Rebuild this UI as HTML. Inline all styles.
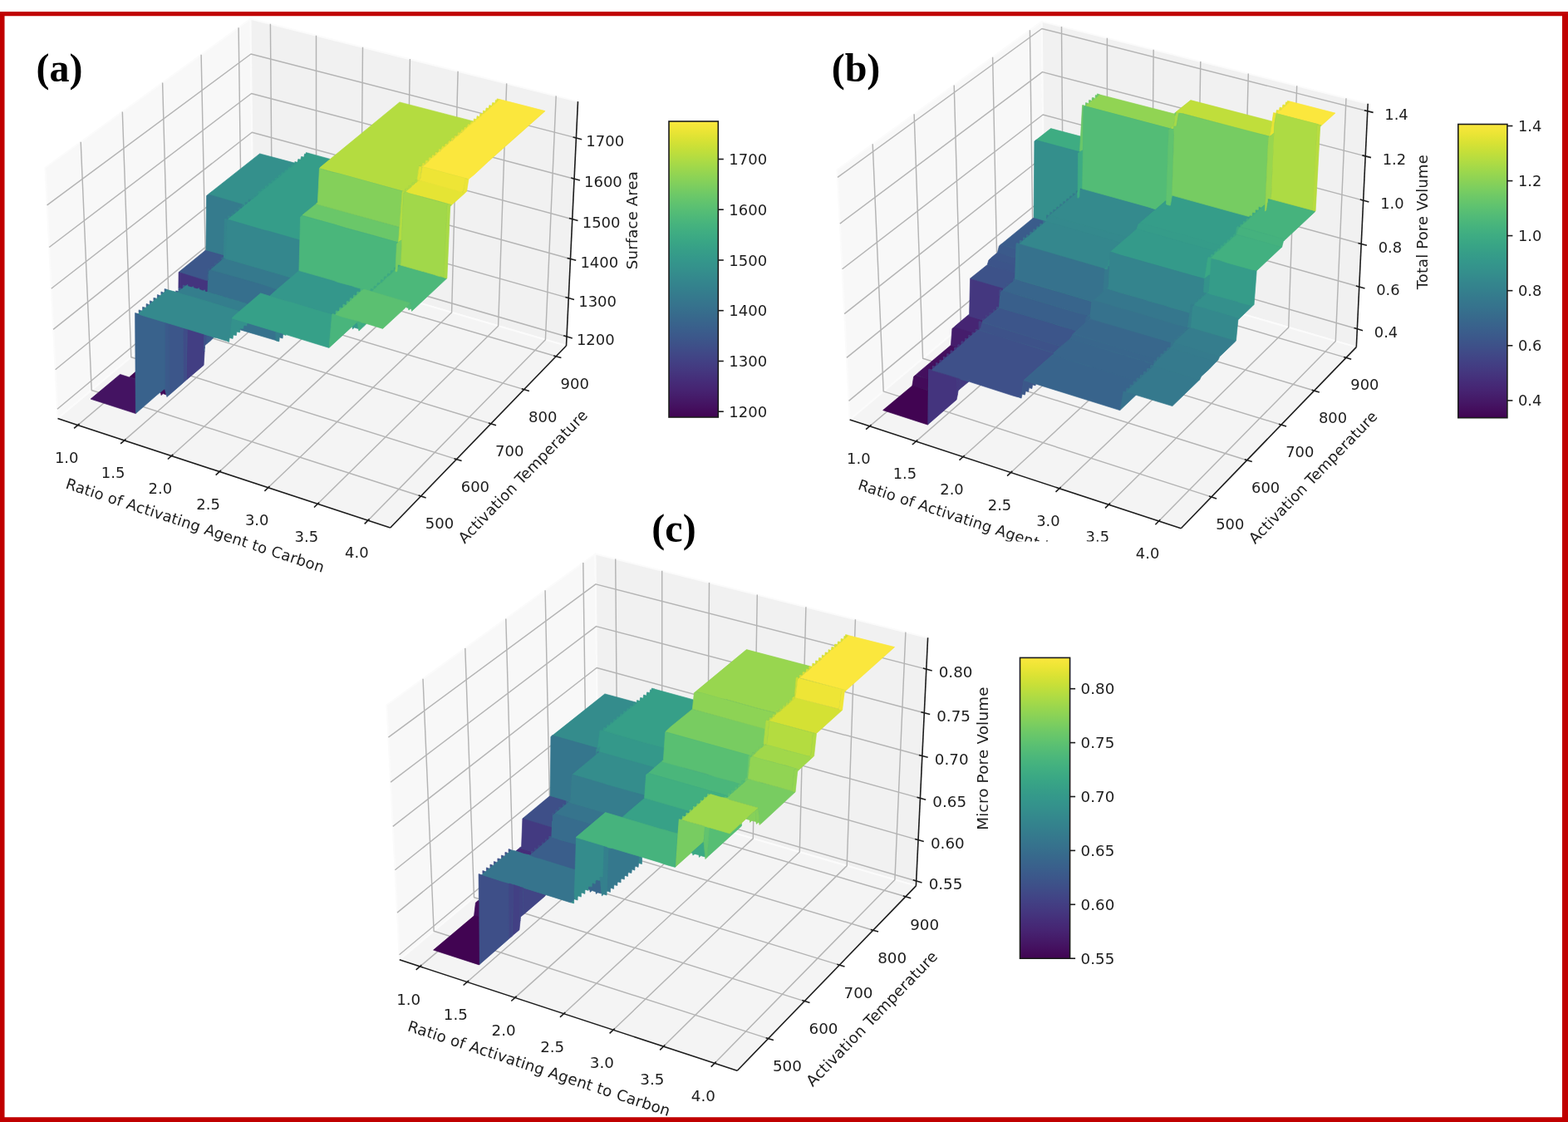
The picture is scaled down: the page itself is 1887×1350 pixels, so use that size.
<!DOCTYPE html>
<html><head><meta charset="utf-8"><title>Figure</title><style>html,body{margin:0;padding:0;background:#fff}svg{display:block}</style></head><body>
<svg width="1887" height="1350" viewBox="0 0 1887 1350" shape-rendering="auto">
<rect width="1887" height="1350" fill="#fff"/>
<g id="figure" stroke-linecap="butt">
<g id="panel-a">
<polygon stroke="#fbfbfb" stroke-width="2" stroke-linejoin="round" fill="#f8f8f8" points="69.5,503.6 304.9,306.5 301.5,22.8 54.4,201.8"/>
<polygon stroke="#fbfbfb" stroke-width="2" stroke-linejoin="round" fill="#f1f1f1" points="304.9,306.5 681.5,416 695.5,122.1 301.5,22.8"/>
<polygon stroke="#fbfbfb" stroke-width="2" stroke-linejoin="round" fill="#f4f4f4" points="69.5,503.6 469.7,635 681.5,416 304.9,306.5"/>
<g fill="none" stroke="#b4b4b4" stroke-width="1.45" stroke-linejoin="round"><polyline points="93.7,511.5 327.8,313.2 325.4,28.8"/><polyline points="149.6,529.9 380.6,328.5 380.5,42.7"/><polyline points="206.4,548.5 434.1,344.1 436.5,56.8"/><polyline points="264.1,567.5 488.5,359.9 493.4,71.1"/><polyline points="322.7,586.7 543.6,375.9 551.1,85.7"/><polyline points="382.3,606.3 599.6,392.2 609.7,100.4"/><polyline points="442.9,626.2 656.4,408.7 669.2,115.4"/><polyline points="506.5,597 110.2,469.5 97.2,170.8"/><polyline points="549.4,552.6 157.8,429.7 147.3,134.5"/><polyline points="590.7,509.8 203.8,391.2 195.6,99.5"/><polyline points="630.7,468.6 248.2,354 242.1,65.8"/><polyline points="669.2,428.8 291.1,318.1 287.1,33.2"/><polyline points="68.9,492.3 304.8,295.8 682,405"/><polyline points="66.6,444.7 304.2,251 684.3,358.6"/><polyline points="64.1,396.4 303.7,205.4 686.5,311.5"/><polyline points="61.7,347.3 303.2,159.3 688.8,263.7"/><polyline points="59.2,297.5 302.6,112.5 691.1,215.2"/><polyline points="56.6,246.9 302,65 693.4,165.9"/></g>
<g fill="none" stroke="#1c1c1c" stroke-width="1.6"><polyline points="69.5,503.6 469.7,635"/><polyline points="469.7,635 681.5,416"/><polyline points="681.5,416 695.5,122.1"/><polyline points="95.6,509.9 89.1,515.4"/><polyline points="151.5,528.3 145.1,533.8"/><polyline points="208.3,546.9 201.9,552.5"/><polyline points="265.9,565.8 259.7,571.6"/><polyline points="324.5,585 318.4,590.9"/><polyline points="384.1,604.5 378,610.5"/><polyline points="444.6,624.4 438.7,630.4"/><polyline points="503.6,596 512.6,598.9"/><polyline points="546.5,551.7 555.6,554.5"/><polyline points="587.9,509 597,511.7"/><polyline points="627.8,467.7 636.9,470.5"/><polyline points="666.3,427.9 675.4,430.6"/><polyline points="678.2,403.8 688.8,406.9"/><polyline points="680.4,357.5 691,360.5"/><polyline points="682.6,310.4 693.2,313.3"/><polyline points="684.9,262.6 695.5,265.5"/><polyline points="687.2,214.1 697.9,217"/><polyline points="689.6,164.9 700.2,167.7"/></g>
<g font-family='"DejaVu Sans","Liberation Sans",sans-serif' font-size="18" fill="#1c1c1c" text-anchor="middle">
<text x="80.2" y="550.2" dy="0.365em">1.0</text>
<text x="136.1" y="568.6" dy="0.365em">1.5</text>
<text x="192.9" y="587.2" dy="0.365em">2.0</text>
<text x="250.6" y="606.2" dy="0.365em">2.5</text>
<text x="309.2" y="625.4" dy="0.365em">3.0</text>
<text x="368.8" y="645" dy="0.365em">3.5</text>
<text x="429.4" y="664.9" dy="0.365em">4.0</text>
<text x="529" y="629.6" dy="0.365em">500</text>
<text x="571.9" y="585.2" dy="0.365em">600</text>
<text x="613.2" y="542.4" dy="0.365em">700</text>
<text x="653.2" y="501.2" dy="0.365em">800</text>
<text x="691.7" y="461.4" dy="0.365em">900</text>
<text x="716.8" y="408.5" dy="0.365em">1200</text>
<text x="719.1" y="362.1" dy="0.365em">1300</text>
<text x="721.3" y="315" dy="0.365em">1400</text>
<text x="723.6" y="267.2" dy="0.365em">1500</text>
<text x="725.9" y="218.7" dy="0.365em">1600</text>
<text x="728.2" y="169.4" dy="0.365em">1700</text>
</g>
</g>
<text transform="translate(235 632) rotate(18.18)" text-anchor="middle" dy="0.365em" letter-spacing="0.21" font-family='"DejaVu Sans","Liberation Sans",sans-serif' font-size="18" fill="#1c1c1c">Ratio of Activating Agent to Carbon</text>
<text transform="translate(629 573) rotate(-45.96)" text-anchor="middle" dy="0.365em" letter-spacing="0.21" font-family='"DejaVu Sans","Liberation Sans",sans-serif' font-size="18" fill="#1c1c1c">Activation Temperature</text>
<text transform="translate(760.5 265) rotate(-90.00)" text-anchor="middle" dy="0.365em" letter-spacing="0.21" font-family='"DejaVu Sans","Liberation Sans",sans-serif' font-size="18" fill="#1c1c1c">Surface Area</text>
<g stroke-width="0.7" stroke-linejoin="round">
<path fill="#3f8f8c" stroke="none" fill-rule="evenodd" d="M655.1 133.9L598.6 119.4L598.4 120.6L596.9 121.1L596.1 124.4L594.6 124.6L593.1 124.1L592.4 127.6L589.4 127.4L588.6 130.9L585.6 130.6L584.9 134.1L582.1 133.9L581.4 137.4L580.1 137.6L578.4 137.1L577.9 140.4L577.1 140.9L574.6 140.4L574.1 143.6L573.4 144.1L570.9 143.6L570.6 145.6L569.1 146.4L481.1 123.4L397.9 191.9L368.9 184.1L368.6 185.6L366.9 186.1L366.1 189.4L363.1 188.9L362.4 192.1L361.6 192.6L359.4 192.1L358.4 195.6L355.4 195.1L355.1 196.1L353.9 196.6L312.9 185.4L249.1 235.6L248.4 300.9L215.6 327.6L215.4 350.6L214.6 351.1L212.1 350.6L212.1 351.4L210.9 351.9L198.6 348.4L198.6 351.6L197.1 352.6L194.4 351.9L194.4 355.1L192.6 356.4L189.9 355.4L189.6 359.1L188.4 359.9L185.4 359.1L185.4 362.4L183.9 363.6L180.9 362.6L180.9 366.1L179.4 367.1L176.6 366.4L176.4 370.1L175.1 370.9L172.1 370.1L172.1 373.4L170.6 374.6L167.6 373.6L167.6 377.1L165.9 378.1L163.1 377.4L163.6 447.4L155.4 454.4L146.6 451.4L144.4 451.1L110.1 479.9L163.1 497.1L191.9 472.1L193.6 472.4L194.4 474.6L196.1 473.1L199.9 474.4L200.9 475.1L201.4 476.6L244.1 439.6L244.9 437.1L246.1 415.4L256.9 405.9L257.9 405.4L275.1 410.6L275.6 406.4L276.6 405.9L279.6 406.6L280.1 402.6L281.1 402.1L283.9 402.9L284.4 398.9L285.4 398.4L288.1 399.1L288.4 396.6L289.1 396.1L335.4 410.1L335.6 406.4L336.9 405.6L339.6 406.4L340.1 402.1L340.9 401.9L342.9 402.6L344.6 402.1L395.9 417.9L423.6 392.6L424.4 393.1L424.6 394.9L426.4 393.6L431.6 395.1L432.4 397.1L437.9 391.6L441.6 389.1L460.4 394.9L487.6 369.4L488.6 369.1L491.6 370.1L492.1 372.1L493.9 370.9L494.9 371.1L495.9 372.1L495.9 373.4L537.4 334.6L541.4 247.9L561.1 230.1L563.4 215.4Z"/>
<path fill="#34908c" stroke="#34908c" fill-rule="evenodd" d="M354.4 196.1L312.6 184.9L250.9 233.6L252.9 234.6L286.9 243.9L294.4 246.6L295.1 246.1L295.1 243.1L295.6 242.9L298.1 243.9L298.9 243.4L298.9 240.1L299.4 239.6L301.9 240.1L302.1 240.6L303.1 240.1L302.9 236.9L303.4 236.4L306.6 236.9L306.9 233.9L307.6 233.1L310.6 233.6L310.9 230.6L311.6 229.9L314.6 230.4L314.9 227.4L315.6 226.6L318.6 227.1L318.9 224.1L319.6 223.4L322.6 223.9L322.9 220.9L323.6 220.1L326.6 220.6L326.9 217.6L327.6 216.9L330.6 217.4L330.9 214.4L331.6 213.6L334.6 214.1L334.9 211.1L335.6 210.4L338.4 210.9L339.1 207.4L342.4 207.6L343.1 204.1L346.4 204.4L346.6 201.6L347.4 200.9L350.4 201.4L350.6 198.4L351.4 197.6L354.1 198.1Z"/>
<path fill="#34998a" stroke="#34998a" fill-rule="evenodd" d="M314.1 230.6L311.6 230.1L311.1 230.6L310.9 233.1L311.6 233.1L314.1 231.1ZM318.1 227.4L315.6 226.9L315.1 227.4L314.9 229.9L315.6 229.9L318.1 227.9ZM322.1 224.1L319.6 223.6L319.1 224.1L318.9 226.6L319.6 226.6L322.1 224.6ZM326.1 220.9L323.6 220.4L323.1 220.9L322.9 223.4L323.6 223.4L326.1 221.4ZM330.1 217.6L327.6 217.1L327.1 217.6L326.9 220.1L327.6 220.1L330.1 218.1ZM334.1 214.4L331.6 213.9L331.1 214.4L330.9 216.9L331.6 216.9L334.1 214.9ZM338.1 211.1L335.6 210.6L335.1 211.1L334.9 213.6L335.6 213.6L338.1 211.6ZM342.1 207.9L339.1 207.6L338.6 210.6L339.1 210.9ZM346.1 204.6L343.1 204.4L342.6 207.4L343.1 207.6ZM349.9 201.6L347.4 201.1L346.9 201.6L346.6 204.1L347.6 203.9L349.9 202.1ZM353.9 198.4L351.4 197.9L350.9 198.4L350.6 200.9L351.4 200.9L353.9 198.9ZM357.9 195.4L354.9 194.6L354.4 197.9L354.9 198.1ZM365.6 189.1L362.6 188.4L361.9 191.9L361.1 192.1L358.9 191.4L358.1 194.9L361.6 192.6L362.1 191.6L362.6 191.9ZM371.4 184.4L368.4 183.6L367.9 185.6L366.6 185.1L365.9 188.6L367.1 188.1Z"/>
<path fill="#359d89" stroke="#359d89" fill-rule="evenodd" d="M397.1 191.4L371.6 184.4L367.1 188.4L366.1 188.6L362.6 192.1L362.1 191.9L361.6 192.9L358.4 194.9L354.9 198.4L354.4 198.1L353.9 199.1L351.4 201.1L350.6 201.1L349.9 202.4L346.6 204.4L343.1 207.9L342.6 207.6L339.1 211.1L338.6 210.9L338.1 211.9L335.6 213.9L334.9 213.9L334.1 215.1L331.6 217.1L330.9 217.1L330.1 218.4L327.6 220.4L326.9 220.4L326.1 221.6L323.6 223.6L322.9 223.6L322.1 224.9L319.6 226.9L318.9 226.9L318.1 228.1L315.6 230.1L314.9 230.1L314.1 231.4L311.6 233.4L310.9 233.4L310.1 234.6L307.6 236.6L306.9 236.6L304.1 239.6L299.4 242.9L295.6 246.4L294.1 246.9L292.9 248.6L273.9 264.1L360.6 288.6L361.4 260.9L382.1 243.6L384.1 203.1L385.1 201.4Z"/>
<path fill="#3c578a" stroke="#3c578a" fill-rule="evenodd" d="M269.1 306.9L247.6 300.9L215.1 327.4L248.6 337.6L250.1 337.6L249.6 336.6L249.6 331.4L250.4 330.6L249.9 329.6L249.9 324.1L251.4 323.6L253.1 324.6L253.9 324.4L254.4 323.6L254.1 320.6L255.6 320.1L257.6 321.1L258.6 320.1L258.4 317.1L258.9 316.6L261.4 317.1L261.6 317.6L262.6 316.9L262.4 313.6L262.9 313.1L265.9 314.1L266.9 313.1L266.6 310.1L267.1 309.6L268.9 309.9Z"/>
<path fill="#357b8d" stroke="#357b8d" fill-rule="evenodd" d="M250.6 233.9L248.6 235.4L247.9 300.6L269.1 306.6L270.1 263.6L271.4 263.1L273.9 263.9L274.4 263.4L274.1 260.1L274.6 259.6L277.6 260.6L278.6 259.6L278.4 256.9L278.9 256.4L281.4 256.9L281.6 257.4L282.6 256.6L282.4 253.4L282.9 252.9L285.9 253.9L286.9 253.1L286.6 250.1L287.1 249.6L289.6 250.1L289.9 250.6L290.9 249.9L290.6 246.9L291.6 245.9Z"/>
<path fill="#44347e" stroke="#44347e" fill-rule="evenodd" d="M215.1 327.6L214.9 347.1L215.9 346.4L217.1 346.4L219.1 347.4L220.1 346.6L219.9 343.4L220.4 342.9L223.4 343.9L225.9 342.4L226.1 344.1L230.4 345.6L232.6 344.6L233.1 346.4L237.1 347.6L239.6 346.4L239.9 348.1L244.1 349.9L246.4 348.6L246.9 350.6L248.1 351.1L249.9 350.9L250.1 337.9L248.6 337.9Z"/>
<path fill="#410452" stroke="#410452" fill-rule="evenodd" d="M162.9 448.1L162.4 447.9L155.9 453.6L162.9 455.6Z"/>
<path fill="#34848d" stroke="#34848d" fill-rule="evenodd" d="M271.4 263.4L270.4 263.6L269.4 310.9L270.9 310.4L272.1 309.1L273.1 268.6L273.6 264.1ZM277.4 260.6L274.6 259.9L274.4 262.6L275.4 262.6ZM281.4 257.1L278.9 256.6L278.9 259.4L281.4 257.6ZM285.6 253.9L282.9 253.1L282.6 255.9L283.6 255.9ZM289.6 250.4L287.1 249.9L286.9 252.4L287.6 252.6ZM293.9 246.9L291.4 246.4L290.9 246.9L290.9 249.1L291.9 249.1ZM297.9 243.9L295.1 243.4L295.4 246.1ZM301.9 240.4L299.4 239.9L299.1 242.4L299.9 242.6Z"/>
<path fill="#34918c" stroke="#34918c" fill-rule="evenodd" d="M276.1 407.1L275.1 407.4L272.4 410.1L275.6 411.4ZM297.9 388.9L279.1 383.4L278.6 384.1L276.4 406.4L280.1 407.4L280.6 402.9L284.4 403.6L284.9 399.1L288.6 399.9L289.1 395.9L289.6 395.4L293.1 395.9L293.6 392.1L294.1 391.6L297.4 392.1ZM306.1 237.4L303.4 236.6L303.1 239.4L304.1 239.4ZM310.1 233.9L307.6 233.4L307.1 233.9L306.9 236.4L307.6 236.4L310.1 234.4Z"/>
<path fill="#3a5b8b" stroke="#3a5b8b" fill-rule="evenodd" d="M257.1 405.9L249.1 403.6L248.6 406.4L248.9 413.6L253.9 409.6ZM250.6 330.9L249.9 331.4L249.9 336.6L250.4 337.4L250.9 336.6ZM251.4 323.9L250.1 324.1L250.1 329.6L250.6 330.4L251.1 329.6L251.1 326.4L252.9 324.9L252.9 324.4ZM257.1 320.9L254.6 320.4L254.6 323.4L256.4 322.1ZM261.4 317.4L258.9 316.9L258.9 319.9L260.9 318.4ZM265.6 314.1L262.9 313.4L262.6 316.1L263.6 316.1Z"/>
<path fill="#b4dc40" stroke="#b4dc40" fill-rule="evenodd" d="M569.6 145.9L480.9 122.9L385.1 201.6L384.6 202.6L407.1 208.4L487.6 230.6L487.6 228.1L488.4 226.4L491.9 226.9L491.9 223.4L492.4 222.9L495.9 223.4L495.9 219.9L496.4 219.4L499.9 219.9L499.9 216.6L500.4 216.1L502.1 216.4L504.1 200.1L504.6 199.6L507.9 200.1L507.9 197.4L508.6 196.4L511.9 196.9L511.9 193.9L512.6 192.9L515.9 193.4L515.9 190.4L516.6 189.4L519.6 189.9L519.6 187.1L520.4 186.1L523.6 186.6L523.6 183.6L524.4 182.6L527.6 183.1L527.6 180.4L528.1 179.4L531.1 179.6L531.4 176.9L532.1 175.9L535.4 176.4L535.6 173.1L536.1 172.6L538.9 173.1L539.1 170.1L539.9 169.1L543.1 169.6L543.1 166.9L543.9 165.9L546.9 166.4L546.9 163.6L547.6 162.6L550.9 163.1L550.9 160.1L551.6 159.1L554.4 159.6L554.6 156.9L555.4 155.9L558.4 156.4L558.4 153.6L559.1 152.6L561.9 153.1L562.1 150.4L562.9 149.4L565.6 149.9L566.1 146.6L566.6 146.1L569.6 146.6Z"/>
<path fill="#376b8c" stroke="#376b8c" fill-rule="evenodd" d="M268.9 310.1L266.9 310.1L267.1 312.9L269.1 311.4Z"/>
<path fill="#423e83" stroke="#423e83" fill-rule="evenodd" d="M225.9 396.1L225.4 396.4L224.6 456.9L245.1 439.4L246.1 422.6L245.1 421.4L245.1 419.6L246.1 418.6L245.4 417.4L245.4 406.4L245.9 402.4Z"/>
<path fill="#3d5189" stroke="#3d5189" fill-rule="evenodd" d="M246.6 402.6L245.9 402.9L245.6 417.4L246.4 418.6L245.4 419.6L245.4 421.4L246.1 422.4L246.6 415.6L248.6 413.9L248.4 406.4L248.9 403.4Z"/>
<path fill="#420a58" stroke="#420a58" fill-rule="evenodd" d="M198.4 468.4L197.1 468.6L192.9 472.6L193.6 473.4L194.1 475.6L196.1 473.6L199.9 474.9Z"/>
<path fill="#35798d" stroke="#35798d" fill-rule="evenodd" d="M254.1 324.1L254.9 325.1L333.1 348.1L349.1 334.6L349.1 334.1L341.6 331.6L271.6 311.4L270.6 310.6L269.4 311.1Z"/>
<path fill="#34878d" stroke="#34878d" fill-rule="evenodd" d="M273.6 264.6L272.4 309.1L271.1 310.1L271.1 310.9L341.6 331.4L349.1 333.9L349.4 334.4L359.6 325.6L360.6 288.9L322.9 278.1L317.9 277.1L277.4 265.1Z"/>
<path fill="#441362" stroke="#441362" fill-rule="evenodd" d="M109.1 480.1L163.4 497.6L162.9 455.9L159.1 455.1L144.6 450.4Z"/>
<path fill="#366f8d" stroke="#366f8d" fill-rule="evenodd" d="M251.4 326.4L251.4 329.6L250.6 330.6L251.1 331.1L251.1 336.6L250.4 337.6L249.9 351.1L250.4 351.6L251.6 351.9L252.4 350.9L253.4 350.6L253.6 352.4L257.9 353.9L260.1 352.9L260.6 354.6L264.9 355.9L267.1 354.9L267.9 356.9L271.6 358.1L274.1 356.9L274.6 358.9L278.6 360.1L281.1 358.9L281.6 360.9L285.6 362.1L288.1 360.9L288.6 362.9L292.6 364.4L294.9 363.1L295.1 364.9L297.9 366.1L313.6 352.6L324.9 355.9L332.9 348.4L311.4 341.6L254.9 325.4L253.9 324.6Z"/>
<path fill="#3f4c88" stroke="#3f4c88" fill-rule="evenodd" d="M221.6 394.9L220.4 395.1L220.1 402.1L220.4 460.6L224.4 457.1L224.9 401.4L225.4 396.1Z"/>
<path fill="#3c568a" stroke="#3c568a" fill-rule="evenodd" d="M204.1 389.6L203.1 389.9L203.4 475.4L220.1 460.9L219.9 402.1L220.4 394.6ZM211.6 349.9L211.9 351.4L214.4 351.6L214.6 350.6ZM218.6 347.1L215.9 346.6L214.9 347.4L214.9 349.4L216.4 349.6ZM223.1 343.9L220.4 343.1L220.1 345.9L221.1 345.9Z"/>
<path fill="#e5e434" stroke="#e5e434" fill-rule="evenodd" d="M488.1 230.4L488.6 231.1L491.9 232.4L528.4 241.9L543.6 246.6L559.4 232.4L556.4 231.1L504.4 217.1L502.4 218.1L500.4 220.1L499.6 220.1L498.9 221.4L495.6 223.6L494.9 224.9ZM597.9 120.4L599.6 121.4L601.4 119.6L598.1 118.9Z"/>
<path fill="#e2e433" stroke="#e2e433" fill-rule="evenodd" d="M511.6 197.1L508.6 196.6L507.9 200.4L504.4 200.1L502.1 216.9L502.4 217.9L505.6 215.4L507.6 201.6L508.1 200.4ZM515.6 193.6L512.6 193.1L512.1 193.9L512.1 196.9L515.1 194.6ZM519.4 190.1L516.6 189.6L516.1 190.4L516.1 193.4L518.9 191.1ZM523.4 186.9L520.4 186.4L519.9 187.1L519.9 189.6L520.9 189.4ZM527.4 183.4L524.4 182.9L523.9 183.6L523.9 186.6L526.9 184.4ZM535.1 176.6L532.1 176.1L531.1 179.9L528.1 179.6L527.9 182.9L528.9 182.6L531.4 179.6L533.1 178.9ZM542.9 169.9L539.9 169.4L538.9 173.4L537.1 172.9L535.9 173.1L535.6 176.1L536.6 175.9L539.6 173.4ZM546.6 166.6L543.9 166.1L543.4 166.9L543.4 169.4L544.4 169.1ZM550.6 163.4L547.6 162.9L547.1 163.6L547.1 166.1L548.1 165.9ZM558.1 156.6L555.4 156.1L554.4 159.9L551.6 159.4L551.1 160.1L551.1 163.1L552.1 162.6L554.6 159.6L556.4 158.9ZM599.4 121.4L596.4 120.4L595.9 123.9L592.6 123.6L591.9 127.4L588.9 126.6L588.1 130.6L585.1 129.9L584.4 133.9L581.6 133.1L581.1 136.9L580.1 137.1L577.9 136.4L577.4 140.1L576.4 140.4L574.1 139.6L573.6 143.4L572.6 143.6L570.4 142.9L569.9 146.6L566.6 146.4L565.6 150.1L562.9 149.6L561.9 153.4L560.1 152.9L558.9 153.1L558.6 156.1L559.6 155.9Z"/>
<path fill="#36728d" stroke="#36728d" fill-rule="evenodd" d="M289.4 395.9L289.4 396.9L332.1 409.6L331.6 399.1L298.9 389.1L297.9 389.4L297.4 392.4L293.9 392.1L293.1 396.1ZM293.9 363.6L293.4 364.4L294.9 364.9L294.9 363.4ZM287.1 361.4L286.6 362.1L288.1 362.6L288.1 361.1ZM280.1 359.4L279.6 360.1L281.1 360.6L281.1 359.1ZM272.4 358.1L273.4 358.6L274.4 358.4L274.1 357.1L272.9 357.4ZM265.9 355.4L265.9 356.1L267.4 356.1L267.1 355.1ZM258.9 353.4L258.9 354.1L260.4 354.1L260.1 353.1ZM252.4 351.1L251.9 351.9L253.4 352.4L253.4 350.9ZM245.4 349.1L244.9 349.9L246.4 350.4L246.4 348.9ZM238.6 346.9L238.1 347.6L239.6 348.1L239.6 346.6ZM231.4 345.1L231.4 345.9L232.9 345.9L232.6 344.9ZM224.9 342.9L224.4 343.6L225.9 344.1L225.9 342.6Z"/>
<path fill="#fbe73d" stroke="#fbe73d" fill-rule="evenodd" d="M656.1 133.6L601.6 119.6L582.4 136.6L581.1 137.1L578.6 139.9L577.4 140.4L574.9 143.1L573.6 143.6L571.1 146.4L569.9 146.9L559.6 156.1L558.6 156.4L558.4 157.1L555.4 159.9L554.6 159.9L552.1 162.9L550.9 163.4L548.1 166.1L547.1 166.4L544.4 169.4L543.4 169.6L539.6 173.6L536.6 176.1L535.6 176.4L533.1 179.1L531.4 179.9L528.9 182.9L527.9 183.1L524.9 186.4L523.6 186.9L520.9 189.6L519.9 189.9L515.1 194.9L508.4 200.4L564.1 215.4L570.9 209.9L587.4 194.6Z"/>
<path fill="#3b5a8b" stroke="#3b5a8b" fill-rule="evenodd" d="M198.9 387.9L198.4 388.1L198.4 468.1L200.9 477.6L203.1 475.6L203.1 389.4Z"/>
<path fill="#347e8d" stroke="#347e8d" fill-rule="evenodd" d="M214.4 351.9L219.4 353.9L253.4 363.6L288.1 374.6L297.6 366.4L297.4 365.9L288.4 362.9L269.9 357.9L267.4 356.6L250.9 352.1L249.9 351.4L248.1 351.4L239.9 348.4L223.6 343.9L216.4 349.9L214.9 349.6Z"/>
<path fill="#39628c" stroke="#39628c" fill-rule="evenodd" d="M162.6 376.6L163.1 447.1L162.6 447.6L163.1 448.1L163.4 496.6L163.9 497.1L187.9 476.1L198.4 467.6L198.4 387.9L170.1 379.4L166.4 377.6ZM167.1 376.1L167.9 376.1L170.1 374.4L170.1 373.9L167.1 372.9ZM174.6 370.1L171.6 369.4L171.6 372.6ZM179.1 366.4L176.1 365.6L176.1 368.9L176.9 368.9ZM183.4 362.9L180.4 361.9L180.4 365.4L183.4 363.4ZM187.9 359.1L184.9 358.4L184.9 361.6ZM189.4 357.9L190.1 357.9L192.4 356.1L192.4 355.6L189.4 354.6ZM196.6 351.9L193.9 351.1L193.9 354.4L196.1 352.9ZM201.1 348.4L198.1 347.6L198.1 350.6L198.9 350.6Z"/>
<path fill="#36738d" stroke="#36738d" fill-rule="evenodd" d="M336.6 400.9L336.4 405.9L340.1 407.1L340.4 402.6L341.1 402.6L340.9 401.9L337.1 400.6Z"/>
<path fill="#34978b" stroke="#34978b" fill-rule="evenodd" d="M325.1 356.1L398.6 378.1L399.6 378.1L400.1 377.4L403.6 378.1L403.9 374.1L405.4 373.6L407.6 374.4L408.4 373.6L408.1 371.1L408.9 369.6L412.4 370.4L412.4 367.4L413.1 365.9L416.6 366.6L416.9 362.6L418.4 362.1L420.4 362.9L420.9 362.4L420.6 359.9L421.4 358.4L424.9 358.9L424.9 356.1L425.6 354.6L429.1 355.1L429.1 352.1L429.9 350.6L433.4 351.4L433.6 347.4L359.6 325.9L326.9 353.9Z"/>
<path fill="#34898d" stroke="#34898d" fill-rule="evenodd" d="M166.4 377.4L170.1 379.1L245.9 402.1L246.1 402.6L246.6 402.4L253.6 404.4L257.4 406.1L260.9 406.6L272.1 410.1L275.1 407.1L276.1 406.9L277.9 388.4L278.9 382.9L287.9 374.6L235.9 358.6L219.4 354.1L214.4 352.1L201.1 348.6L190.1 358.1L189.4 358.1L189.1 358.9L187.9 359.4L176.9 369.1L176.1 369.1L175.9 369.9L174.6 370.4Z"/>
<path fill="#6ac769" stroke="#6ac769" fill-rule="evenodd" d="M364.1 258.6L364.1 259.1L402.6 269.9L414.4 273.6L449.6 283.1L478.9 291.6L479.4 291.4L480.4 273.4L381.6 246.1L380.4 245.4Z"/>
<path fill="#84d05a" stroke="#84d05a" fill-rule="evenodd" d="M384.4 203.1L382.4 243.6L380.6 244.9L380.9 245.6L480.6 273.1L483.6 231.6L484.1 230.1L407.1 208.6L400.9 207.4L385.6 202.9Z"/>
<path fill="#347f8d" stroke="#347f8d" fill-rule="evenodd" d="M331.9 399.4L332.1 409.9L335.9 410.9L336.6 400.6Z"/>
<path fill="#4ab67b" stroke="#4ab67b" fill-rule="evenodd" d="M361.6 260.9L359.9 325.6L401.9 337.6L406.4 339.4L423.4 343.9L427.9 345.6L433.6 347.1L434.9 346.9L437.4 348.1L437.9 347.9L444.6 349.9L445.6 349.9L446.4 347.4L449.9 348.1L449.9 345.1L450.6 343.9L453.9 344.4L453.9 341.4L454.6 340.1L457.9 340.6L457.9 337.9L458.6 336.4L462.1 336.9L462.1 333.9L462.9 332.6L466.1 333.1L466.1 330.1L466.9 328.9L470.1 329.6L470.1 326.6L470.9 325.4L474.1 325.9L474.4 322.1L475.9 321.6L477.1 293.6L478.6 291.6L414.4 273.9L402.6 270.1L365.1 259.9L363.9 259.1Z"/>
<path fill="#359b8a" stroke="#359b8a" fill-rule="evenodd" d="M429.9 388.4L428.1 389.1L423.9 393.1L424.4 395.9L426.4 394.1L430.9 395.4Z"/>
<path fill="#3dab83" stroke="#3dab83" fill-rule="evenodd" d="M440.6 389.6L435.6 388.1L434.9 388.4L434.4 392.6L434.6 395.6L439.6 391.1ZM446.4 347.6L445.9 350.1L447.6 350.6L449.4 348.4ZM453.4 344.9L450.6 344.1L450.1 345.1L450.4 347.6ZM457.6 340.9L454.6 340.4L454.1 341.4L454.1 343.9L455.1 343.6ZM461.6 337.4L458.6 336.6L458.1 340.4L459.1 340.1ZM465.6 333.6L462.9 332.9L462.4 333.9L462.4 336.4L463.1 336.4ZM469.9 329.9L466.9 329.1L466.4 330.1L466.4 332.6L466.9 332.9ZM473.9 326.1L470.9 325.6L470.4 326.6L470.4 329.1L470.9 329.4ZM475.9 321.9L474.9 321.9L474.4 322.9L474.4 325.6L474.9 325.9L475.6 325.4ZM481.6 319.1L478.9 318.9L478.6 321.4L479.4 321.6Z"/>
<path fill="#36a088" stroke="#36a088" fill-rule="evenodd" d="M279.1 382.9L340.9 401.6L341.4 402.6L344.1 403.4L344.4 402.6L381.6 414.1L395.9 418.4L396.4 418.1L396.1 414.4L399.6 378.6L378.9 372.6L352.6 364.4L342.6 361.9L313.6 352.9L281.4 380.4Z"/>
<path fill="#b2dc42" stroke="#b2dc42" fill-rule="evenodd" d="M485.4 230.1L484.4 230.1L483.9 231.6L479.6 291.1L483.4 288.4L485.4 232.9L487.4 231.1ZM491.4 227.4L488.4 226.6L487.9 229.9L488.9 229.9ZM495.4 223.9L492.4 223.1L491.9 226.4L492.9 226.4ZM499.4 220.4L496.4 219.6L495.9 222.9L496.9 222.9ZM502.1 216.6L500.1 216.6L499.9 219.4L500.4 219.9L502.1 218.4Z"/>
<path fill="#4cb87a" stroke="#4cb87a" fill-rule="evenodd" d="M447.9 350.9L493.1 363.9L494.4 365.4L495.4 371.6L497.6 372.4L537.6 335.1L481.9 319.4L478.6 322.1L477.6 327.1L476.1 326.9L475.6 325.9L474.4 325.9L469.4 331.1L466.9 333.1L466.4 332.9L459.1 340.4L458.1 340.6L457.1 342.1L454.1 344.1L452.9 345.9L450.1 347.9Z"/>
<path fill="#7acd60" stroke="#7acd60" fill-rule="evenodd" d="M483.1 289.1L479.1 291.6L477.4 293.6L476.1 323.4L475.6 325.6L475.9 326.4L476.9 326.9L477.9 326.4L478.6 318.9L479.4 318.4L482.1 318.9Z"/>
<path fill="#eee536" stroke="#eee536" fill-rule="evenodd" d="M508.4 200.6L505.9 215.4L504.6 216.4L504.6 217.1L555.6 230.9L557.6 229.4L560.1 214.6Z"/>
<path fill="#a1d84a" stroke="#a1d84a" fill-rule="evenodd" d="M487.9 230.6L485.6 232.9L482.6 315.6L482.1 319.1L522.4 330.4L527.1 332.1L533.9 333.6L537.9 247.1L539.4 245.4L491.9 232.6Z"/>
<path fill="#ece535" stroke="#ece535" fill-rule="evenodd" d="M560.4 214.9L559.9 215.6L557.9 229.4L556.4 230.9L559.6 232.1L561.6 230.4L563.9 215.6Z"/>
<path fill="#a8da46" stroke="#a8da46" fill-rule="evenodd" d="M539.6 245.6L538.1 247.1L534.1 331.4L534.1 333.9L537.9 334.9L541.6 250.9L541.9 248.1L543.4 246.9L543.1 246.4Z"/>
<path fill="#41af80" stroke="#41af80" fill-rule="evenodd" d="M430.4 386.9L429.9 388.1L431.9 398.1L434.4 395.9L434.1 392.6L434.9 387.9Z"/>
<path fill="#49b57c" stroke="#49b57c" fill-rule="evenodd" d="M430.1 386.6L400.1 377.6L399.6 378.4L396.4 414.4L396.6 417.9L428.1 388.9L429.6 388.1ZM407.4 374.6L404.4 373.9L403.9 377.4L404.9 377.4ZM411.9 370.6L408.9 369.9L408.4 373.1L409.1 373.4L411.9 371.1ZM416.1 366.9L413.1 366.1L412.6 367.4L412.9 369.9L416.1 367.4ZM419.9 362.9L418.4 362.4L417.1 362.6L417.1 366.1L420.1 363.4ZM424.1 359.1L421.4 358.6L420.9 361.9L421.4 362.4L424.4 359.6ZM428.6 355.6L425.6 354.9L425.1 358.1L426.1 358.1ZM432.9 351.6L429.9 350.9L429.4 354.6L430.4 354.4ZM437.1 347.9L433.9 347.1L433.9 350.9L437.1 348.4Z"/>
<path fill="#52bb77" stroke="#52bb77" fill-rule="evenodd" d="M493.6 365.1L490.6 367.6L488.9 369.9L491.4 370.6L491.9 373.1L493.9 371.4L494.9 371.6L495.6 374.4L497.4 372.4L495.1 371.6L494.1 365.4Z"/>
<path fill="#5bc071" stroke="#5bc071" fill-rule="evenodd" d="M403.9 378.4L410.9 380.9L433.4 387.1L435.1 388.1L439.9 389.1L440.9 389.9L441.6 389.6L460.6 395.4L488.6 369.6L493.6 364.4L437.9 348.1L433.6 351.1L430.4 354.6L429.4 354.9L428.1 356.6L424.6 359.1L422.4 361.9L421.1 362.4L416.1 367.6L408.6 373.6Z"/>
</g>
<linearGradient id="cba" x1="0" y1="0" x2="0" y2="1"><stop offset="0%" stop-color="#fbe73d"/><stop offset="3.1%" stop-color="#ece535"/><stop offset="6.2%" stop-color="#d9e234"/><stop offset="9.4%" stop-color="#c5df39"/><stop offset="12.5%" stop-color="#b2dc42"/><stop offset="15.6%" stop-color="#9fd84b"/><stop offset="18.8%" stop-color="#8dd355"/><stop offset="21.9%" stop-color="#7cce5f"/><stop offset="25%" stop-color="#6cc868"/><stop offset="28.1%" stop-color="#5ec270"/><stop offset="31.2%" stop-color="#52bb77"/><stop offset="34.4%" stop-color="#47b47d"/><stop offset="37.5%" stop-color="#3fad82"/><stop offset="40.6%" stop-color="#39a685"/><stop offset="43.8%" stop-color="#369e88"/><stop offset="46.9%" stop-color="#34978b"/><stop offset="50%" stop-color="#34908c"/><stop offset="53.1%" stop-color="#34888d"/><stop offset="56.2%" stop-color="#34818d"/><stop offset="59.4%" stop-color="#35798d"/><stop offset="62.5%" stop-color="#36728d"/><stop offset="65.6%" stop-color="#376a8c"/><stop offset="68.8%" stop-color="#39628c"/><stop offset="71.9%" stop-color="#3b5a8b"/><stop offset="75%" stop-color="#3d5289"/><stop offset="78.1%" stop-color="#404987"/><stop offset="81.2%" stop-color="#424084"/><stop offset="84.4%" stop-color="#44377f"/><stop offset="87.5%" stop-color="#452d79"/><stop offset="90.6%" stop-color="#462472"/><stop offset="93.8%" stop-color="#451a68"/><stop offset="96.9%" stop-color="#440f5e"/><stop offset="100%" stop-color="#410452"/></linearGradient>
<rect x="805" y="146" width="59.3" height="356" fill="url(#cba)" stroke="#1c1c1c" stroke-width="1.6"/>
<g font-family='"DejaVu Sans","Liberation Sans",sans-serif' font-size="18" fill="#1c1c1c">
<text x="877.3" y="495.2" dy="0.365em">1200</text>
<text x="877.3" y="434.5" dy="0.365em">1300</text>
<text x="877.3" y="373.7" dy="0.365em">1400</text>
<text x="877.3" y="313" dy="0.365em">1500</text>
<text x="877.3" y="252.2" dy="0.365em">1600</text>
<text x="877.3" y="191.5" dy="0.365em">1700</text>
</g>
<line x1="864.3" y1="495.2" x2="870.8" y2="495.2" stroke="#1c1c1c" stroke-width="1.6"/>
<line x1="864.3" y1="434.5" x2="870.8" y2="434.5" stroke="#1c1c1c" stroke-width="1.6"/>
<line x1="864.3" y1="373.7" x2="870.8" y2="373.7" stroke="#1c1c1c" stroke-width="1.6"/>
<line x1="864.3" y1="313" x2="870.8" y2="313" stroke="#1c1c1c" stroke-width="1.6"/>
<line x1="864.3" y1="252.2" x2="870.8" y2="252.2" stroke="#1c1c1c" stroke-width="1.6"/>
<line x1="864.3" y1="191.5" x2="870.8" y2="191.5" stroke="#1c1c1c" stroke-width="1.6"/>
<g id="panel-b">
<polygon stroke="#fbfbfb" stroke-width="2" stroke-linejoin="round" fill="#f8f8f8" points="1022.6,504.9 1257.1,308.6 1253.7,25.9 1007.5,204.3"/>
<polygon stroke="#fbfbfb" stroke-width="2" stroke-linejoin="round" fill="#f1f1f1" points="1257.1,308.6 1632.3,417.6 1646.2,124.8 1253.7,25.9"/>
<polygon stroke="#fbfbfb" stroke-width="2" stroke-linejoin="round" fill="#f4f4f4" points="1022.6,504.9 1421.3,635.7 1632.3,417.6 1257.1,308.6"/>
<g fill="none" stroke="#b4b4b4" stroke-width="1.45" stroke-linejoin="round"><polyline points="1046.7,512.8 1279.9,315.2 1277.5,31.9"/><polyline points="1102.4,531.1 1332.5,330.5 1332.4,45.7"/><polyline points="1159,549.7 1385.8,346 1388.2,59.8"/><polyline points="1216.5,568.5 1440,361.7 1444.8,74.1"/><polyline points="1274.9,587.7 1494.9,377.7 1502.3,88.5"/><polyline points="1334.2,607.2 1550.7,393.9 1560.7,103.3"/><polyline points="1394.5,627 1607.3,410.4 1620,118.2"/><polyline points="1457.9,597.9 1063.2,470.9 1050.2,173.3"/><polyline points="1500.6,553.7 1110.6,431.3 1100.1,137.2"/><polyline points="1541.9,511.1 1156.4,392.9 1148.2,102.4"/><polyline points="1581.6,470 1200.6,355.9 1194.6,68.7"/><polyline points="1620,430.4 1243.4,320.1 1239.4,36.3"/><polyline points="1021.5,482.4 1256.9,287.4 1633.3,395.7"/><polyline points="1018.9,430.4 1256.3,238.3 1635.7,345"/><polyline points="1016.2,377.6 1255.7,188.5 1638.2,293.5"/><polyline points="1013.5,323.8 1255.1,138 1640.7,241.1"/><polyline points="1010.8,269.1 1254.5,86.6 1643.2,187.9"/><polyline points="1008,213.4 1253.8,34.5 1645.8,133.7"/></g>
<g fill="none" stroke="#1c1c1c" stroke-width="1.6"><polyline points="1022.6,504.9 1421.3,635.7"/><polyline points="1421.3,635.7 1632.3,417.6"/><polyline points="1632.3,417.6 1646.2,124.8"/><polyline points="1048.6,511.2 1042.1,516.7"/><polyline points="1104.3,529.4 1097.9,535"/><polyline points="1160.8,548 1154.5,553.6"/><polyline points="1218.3,566.8 1212.1,572.6"/><polyline points="1276.7,586 1270.5,591.8"/><polyline points="1336,605.4 1330,611.4"/><polyline points="1396.3,625.2 1390.4,631.2"/><polyline points="1455,597 1464.1,599.9"/><polyline points="1497.8,552.8 1506.8,555.6"/><polyline points="1539,510.2 1548,513"/><polyline points="1578.7,469.2 1587.8,471.9"/><polyline points="1617.1,429.5 1626.2,432.2"/><polyline points="1629.5,394.6 1640,397.7"/><polyline points="1631.9,343.9 1642.5,346.9"/><polyline points="1634.4,292.4 1644.9,295.3"/><polyline points="1636.8,240.1 1647.4,242.9"/><polyline points="1639.4,186.9 1650,189.6"/><polyline points="1641.9,132.8 1652.6,135.4"/></g>
<g font-family='"DejaVu Sans","Liberation Sans",sans-serif' font-size="17.9" fill="#1c1c1c" text-anchor="middle">
<text x="1033.3" y="551.4" dy="0.365em">1.0</text>
<text x="1088.9" y="569.6" dy="0.365em">1.5</text>
<text x="1145.5" y="588.2" dy="0.365em">2.0</text>
<text x="1203" y="607.1" dy="0.365em">2.5</text>
<text x="1261.4" y="626.2" dy="0.365em">3.0</text>
<text x="1320.8" y="645.7" dy="0.365em">3.5</text>
<text x="1381.1" y="665.5" dy="0.365em">4.0</text>
<text x="1480.3" y="630.4" dy="0.365em">500</text>
<text x="1523.1" y="586.2" dy="0.365em">600</text>
<text x="1564.3" y="543.6" dy="0.365em">700</text>
<text x="1604" y="502.5" dy="0.365em">800</text>
<text x="1642.4" y="462.8" dy="0.365em">900</text>
<text x="1668" y="399.2" dy="0.365em">0.4</text>
<text x="1670.4" y="348.5" dy="0.365em">0.6</text>
<text x="1672.9" y="297" dy="0.365em">0.8</text>
<text x="1675.4" y="244.6" dy="0.365em">1.0</text>
<text x="1677.9" y="191.3" dy="0.365em">1.2</text>
<text x="1680.5" y="137.2" dy="0.365em">1.4</text>
</g>
</g>
<text transform="translate(1187.5 632.8) rotate(18.18)" text-anchor="middle" dy="0.365em" letter-spacing="0.21" font-family='"DejaVu Sans","Liberation Sans",sans-serif' font-size="17.9" fill="#1c1c1c">Ratio of Activating Agent to Carbon</text>
<text transform="translate(1580 574) rotate(-45.96)" text-anchor="middle" dy="0.365em" letter-spacing="0.21" font-family='"DejaVu Sans","Liberation Sans",sans-serif' font-size="17.9" fill="#1c1c1c">Activation Temperature</text>
<text transform="translate(1711 267.2) rotate(-90.00)" text-anchor="middle" dy="0.365em" letter-spacing="0.21" font-family='"DejaVu Sans","Liberation Sans",sans-serif' font-size="17.9" fill="#1c1c1c">Total Pore Volume</text>
<g stroke-width="0.7" stroke-linejoin="round">
<path fill="#3f8f8c" stroke="none" fill-rule="evenodd" d="M1605.9 136.4L1549.9 121.9L1549.4 123.6L1547.9 123.6L1547.1 126.9L1545.9 127.1L1544.4 126.6L1543.6 130.1L1542.4 130.4L1540.6 129.9L1539.9 133.4L1538.6 133.6L1536.9 133.1L1536.1 136.6L1533.1 136.4L1531.6 145.9L1530.1 146.4L1432.9 121.1L1414.9 135.6L1413.9 137.4L1412.4 137.6L1320.9 113.6L1320.6 115.1L1318.9 115.1L1318.4 118.6L1317.6 118.9L1314.9 118.1L1314.4 121.6L1313.6 121.9L1311.1 121.1L1310.9 124.1L1309.9 124.9L1307.1 124.1L1306.6 127.6L1305.6 127.9L1303.1 127.1L1300.9 164.4L1297.1 163.9L1264.9 155.1L1245.4 170.1L1244.6 261.9L1203.6 295.4L1202.6 296.9L1200.9 304.4L1190.6 312.6L1188.9 318.6L1168.1 335.4L1167.1 378.1L1146.4 395.6L1144.9 415.6L1100.6 452.9L1099.9 454.4L1098.4 464.1L1063.6 493.4L1116.4 510.6L1150.6 480.6L1152.6 469.9L1165.9 458.6L1228.1 478.4L1228.9 477.9L1229.1 474.6L1229.6 473.9L1232.9 474.4L1233.9 470.1L1237.1 470.6L1238.1 466.1L1238.6 465.9L1241.4 466.9L1242.1 462.6L1242.9 462.1L1245.6 463.1L1246.6 461.6L1347.6 493.1L1367.4 474.6L1410.6 488.1L1443.1 456.9L1445.1 452.6L1465.1 433.4L1467.1 428.9L1486.9 409.9L1489.4 384.6L1508.6 366.1L1511.6 325.6L1542.1 297.1L1544.1 289.9L1582.6 253.9L1588.4 151.9Z"/>
<path fill="#3a5c8b" stroke="#3a5c8b" fill-rule="evenodd" d="M1255.6 265.1L1243.9 261.9L1204.9 293.9L1222.6 299.1L1222.9 292.9L1224.1 292.4L1226.6 293.1L1227.1 292.4L1226.9 289.6L1227.4 289.1L1230.4 290.1L1231.4 288.9L1231.1 286.1L1231.6 285.6L1234.1 286.1L1234.4 286.6L1235.4 285.4L1235.1 282.9L1235.6 282.4L1238.6 283.4L1239.4 282.6L1239.4 279.4L1239.9 278.9L1242.4 279.4L1242.6 279.9L1243.4 279.4L1243.4 276.1L1243.9 275.6L1246.4 276.1L1246.6 276.6L1247.6 275.4L1247.4 272.9L1247.9 272.4L1250.9 273.1L1251.4 272.6L1251.4 269.4L1251.9 268.9L1254.6 269.6L1255.4 269.1Z"/>
<path fill="#3eac82" stroke="#3eac82" fill-rule="evenodd" d="M1247.4 168.1L1248.6 168.9L1298.9 182.6L1299.6 182.4L1300.4 164.1L1264.6 154.6Z"/>
<path fill="#348f8c" stroke="#348f8c" fill-rule="evenodd" d="M1247.1 168.1L1244.9 169.9L1244.1 261.6L1258.9 266.1L1259.6 263.9L1259.1 262.6L1259.6 258.6L1263.1 259.1L1263.4 255.6L1263.9 255.1L1266.9 255.9L1267.4 255.4L1267.4 252.4L1267.9 251.9L1270.9 252.6L1271.4 252.1L1271.4 249.1L1271.9 248.6L1274.9 249.4L1275.4 248.9L1275.4 245.9L1275.9 245.4L1278.9 246.1L1279.4 245.6L1279.4 242.6L1279.9 242.1L1282.4 242.6L1282.6 243.1L1283.4 242.6L1283.1 241.1L1283.9 238.9L1286.4 239.4L1286.6 239.9L1287.4 239.4L1287.4 236.1L1288.6 235.6L1290.6 236.4L1291.1 235.9L1291.1 232.9L1291.9 232.4L1294.9 233.1L1295.1 229.9L1296.9 229.4L1297.4 184.1L1298.6 182.6L1248.6 169.1Z"/>
<path fill="#35798d" stroke="#35798d" fill-rule="evenodd" d="M1355.4 471.1L1363.1 474.1L1410.9 488.6L1443.4 457.1L1388.4 440.1ZM1333.1 320.1L1333.4 321.6L1332.6 324.1L1329.1 323.9L1327.9 346.4L1328.1 350.1L1333.9 345.4L1335.1 320.4ZM1266.6 256.1L1263.9 255.4L1263.6 258.6ZM1270.6 252.9L1267.9 252.1L1267.6 255.4ZM1274.6 249.6L1271.9 248.9L1271.6 252.1ZM1278.6 246.4L1275.9 245.6L1275.6 248.9ZM1282.4 242.9L1279.9 242.4L1279.4 245.1L1280.1 245.4ZM1286.4 239.6L1283.9 239.1L1283.4 241.9L1284.4 241.9ZM1290.4 236.4L1287.9 235.9L1287.4 238.6L1288.4 238.6ZM1294.4 233.4L1291.4 232.9L1291.4 235.6L1292.4 235.4ZM1296.6 229.6L1295.4 229.9L1295.4 232.4L1296.6 231.9ZM1301.9 227.1L1299.6 226.9L1299.6 228.6L1300.1 228.9Z"/>
<path fill="#3b5a8b" stroke="#3b5a8b" fill-rule="evenodd" d="M1202.4 295.9L1200.4 303.9L1219.9 309.6L1222.1 309.9L1222.6 299.4L1208.9 295.6L1204.6 293.9Z"/>
<path fill="#348a8d" stroke="#348a8d" fill-rule="evenodd" d="M1488.4 381.9L1486.1 383.9L1483.6 409.1L1487.4 410.1L1489.9 384.9L1491.6 383.1ZM1263.6 259.1L1274.4 262.6L1280.1 263.9L1356.1 285.6L1367.9 275.6L1368.4 273.1L1370.1 269.4L1371.9 268.4L1390.4 251.9L1302.4 227.1L1299.4 229.6L1299.1 236.6L1297.6 238.6L1296.6 238.1L1296.6 232.4L1295.4 232.6L1293.9 234.4L1291.4 235.9L1289.9 237.6Z"/>
<path fill="#3c568a" stroke="#3c568a" fill-rule="evenodd" d="M1192.9 310.1L1193.6 310.9L1221.9 318.9L1222.1 310.1L1219.9 309.9L1200.9 304.1L1199.6 304.6Z"/>
<path fill="#6ec967" stroke="#6ec967" fill-rule="evenodd" d="M1320.4 112.9L1320.4 114.6L1321.4 115.4L1323.1 114.1L1323.1 113.6Z"/>
<path fill="#6ac769" stroke="#6ac769" fill-rule="evenodd" d="M1302.6 126.6L1299.6 180.4L1299.6 181.9L1300.1 182.4L1303.1 180.4L1303.9 129.1L1305.6 127.6L1305.4 127.1ZM1309.4 124.4L1306.6 123.6L1306.4 126.6L1307.6 126.1ZM1310.4 123.4L1311.4 123.1L1313.4 121.6L1313.4 121.1L1310.6 120.4ZM1314.1 120.4L1315.4 120.1L1317.4 118.1L1314.4 117.4ZM1321.1 115.1L1318.4 114.4L1318.1 117.6L1319.4 117.1Z"/>
<path fill="#3c548a" stroke="#3c548a" fill-rule="evenodd" d="M1189.9 312.9L1188.4 318.1L1215.9 326.4L1221.6 327.6L1221.9 319.1L1193.6 311.1L1192.6 310.4Z"/>
<path fill="#3dab83" stroke="#3dab83" fill-rule="evenodd" d="M1495.4 269.9L1492.6 269.4L1491.9 273.1L1492.6 273.1ZM1514.1 252.9L1511.4 252.4L1510.4 256.1L1508.6 255.6L1507.4 255.9L1506.6 259.6L1503.9 259.1L1502.9 262.9L1500.1 262.4L1499.1 266.4L1497.4 265.9L1496.1 266.1L1495.6 268.1L1495.9 269.6L1510.1 257.1ZM1517.9 249.6L1515.1 248.9L1514.4 251.1L1514.6 252.6ZM1528.9 239.6L1526.1 239.4L1525.6 241.1L1525.9 242.4L1528.6 240.4ZM1303.1 180.9L1298.9 182.9L1297.6 184.1L1297.1 230.1L1296.6 232.1L1296.9 238.1L1297.4 238.4L1298.9 236.6L1299.1 229.6L1299.6 228.9L1299.4 226.9L1300.1 226.4L1302.4 226.9Z"/>
<path fill="#3d5289" stroke="#3d5289" fill-rule="evenodd" d="M1178.1 396.4L1178.4 397.1L1193.1 401.4L1198.4 403.4L1245.4 417.4L1267.9 424.6L1276.6 416.9L1182.1 387.9L1181.4 388.4L1179.9 394.9ZM1167.6 335.1L1197.9 344.4L1206.9 346.6L1207.4 345.1L1210.4 346.1L1211.1 345.4L1211.1 342.1L1211.6 341.6L1214.1 342.1L1214.4 342.6L1215.4 341.9L1215.4 338.9L1215.9 338.4L1218.4 338.9L1218.6 339.4L1219.4 338.6L1219.4 335.4L1221.4 334.4L1221.4 327.9L1188.4 318.4Z"/>
<path fill="#91d453" stroke="#91d453" fill-rule="evenodd" d="M1306.4 126.9L1307.4 127.9L1391.4 149.9L1406.4 153.9L1407.6 154.6L1412.1 151.6L1413.9 139.9L1413.4 137.1L1323.4 113.9L1315.4 120.4L1314.1 120.6L1313.4 121.9Z"/>
<path fill="#462573" stroke="#462573" fill-rule="evenodd" d="M1148.6 393.1L1149.4 393.9L1169.1 399.9L1171.9 399.9L1172.9 400.6L1174.1 399.6L1173.9 396.6L1174.4 396.1L1176.9 396.6L1177.1 397.1L1177.9 396.9L1177.9 387.1L1179.1 386.6L1181.6 387.9L1182.4 386.1L1182.1 385.1L1164.6 379.6Z"/>
<path fill="#53bc76" stroke="#53bc76" fill-rule="evenodd" d="M1304.1 129.1L1302.6 227.1L1379.9 248.4L1390.9 251.9L1401.6 242.4L1403.6 241.4L1406.1 156.1L1407.4 154.6L1307.4 128.1L1306.4 127.1Z"/>
<path fill="#44377f" stroke="#44377f" fill-rule="evenodd" d="M1167.6 335.4L1166.6 377.9L1164.9 379.4L1165.9 380.1L1182.1 384.9L1182.6 383.1L1185.6 384.1L1186.6 383.1L1186.4 380.1L1186.9 379.6L1189.9 380.6L1190.9 379.6L1190.6 376.6L1191.1 376.1L1193.6 376.6L1193.9 377.1L1195.1 376.1L1194.9 373.1L1195.4 372.6L1197.9 373.1L1198.1 373.6L1199.1 372.9L1198.9 369.6L1199.4 369.1L1202.4 369.4L1203.1 356.1L1202.6 355.4L1202.9 349.1L1204.1 348.6L1206.1 349.6L1206.9 349.4L1206.9 346.9L1197.9 344.6Z"/>
<path fill="#35778d" stroke="#35778d" fill-rule="evenodd" d="M1316.6 361.1L1330.4 365.6L1350.6 371.1L1355.1 372.9L1418.1 391.1L1422.6 392.9L1428.1 394.4L1429.4 394.1L1429.1 393.1L1431.6 376.6L1406.4 369.4L1401.9 367.6L1381.6 362.1L1377.1 360.4L1346.6 351.9L1332.4 347.1L1328.1 350.4ZM1262.6 259.4L1259.6 258.9L1259.6 263.1Z"/>
<path fill="#440f5e" stroke="#440f5e" fill-rule="evenodd" d="M1150.9 418.1L1147.9 416.6L1144.1 415.6L1104.4 448.9L1102.4 451.1L1117.1 455.9L1117.4 444.4L1118.6 443.9L1121.4 444.9L1122.1 443.9L1121.9 440.6L1122.4 440.1L1125.4 441.1L1126.4 440.1L1126.1 436.9L1126.6 436.4L1129.4 437.1L1129.6 437.6L1130.9 436.4L1130.6 433.4L1131.1 432.9L1134.1 433.9L1135.1 432.9L1134.9 429.6L1135.4 429.1L1138.4 430.1L1139.6 429.1L1139.4 425.9L1139.9 425.4L1142.9 426.4L1143.9 425.4L1143.6 422.1L1144.9 421.6L1147.1 422.9L1148.4 421.6L1148.1 418.6L1148.6 418.1Z"/>
<path fill="#451d6c" stroke="#451d6c" fill-rule="evenodd" d="M1169.6 400.1L1149.4 394.1L1148.4 393.4L1145.9 395.4L1144.4 415.4L1149.9 417.1L1151.4 418.4L1152.6 417.9L1152.4 414.9L1153.9 414.4L1155.9 415.4L1156.9 414.4L1156.6 410.9L1157.9 410.4L1160.1 411.6L1161.4 410.4L1161.1 407.4L1161.6 406.9L1164.1 407.4L1164.4 407.9L1165.4 407.1L1165.4 403.6L1165.9 403.1L1168.6 404.1L1169.9 403.1Z"/>
<path fill="#35758d" stroke="#35758d" fill-rule="evenodd" d="M1254.6 269.9L1251.9 269.1L1251.4 272.1L1252.1 272.4ZM1258.6 266.4L1255.9 265.6L1255.6 268.9L1256.6 268.6Z"/>
<path fill="#34898d" stroke="#34898d" fill-rule="evenodd" d="M1435.1 368.9L1432.6 394.1L1483.4 408.9L1485.9 383.9L1487.6 382.1L1487.4 381.6L1455.6 372.6L1451.1 370.9L1439.4 367.9L1437.4 366.9ZM1259.1 266.4L1322.9 284.4L1348.4 292.1L1355.6 286.1L1355.6 285.6L1274.4 262.9L1264.4 259.9L1263.4 259.1L1261.1 261.1Z"/>
<path fill="#36758d" stroke="#36758d" fill-rule="evenodd" d="M1416.4 408.6L1413.1 408.4L1412.6 410.4L1413.1 412.4ZM1432.4 394.1L1429.6 393.9L1428.1 396.9L1425.4 396.9L1424.4 401.1L1421.4 400.6L1420.4 404.9L1417.1 404.6L1416.6 406.6L1416.9 408.4ZM1250.4 273.1L1247.9 272.6L1247.6 275.1L1248.1 275.4L1250.1 273.9Z"/>
<path fill="#34878d" stroke="#34878d" fill-rule="evenodd" d="M1440.6 363.1L1437.6 362.6L1436.9 365.1L1437.1 366.6L1440.1 364.1ZM1444.1 359.4L1442.6 358.9L1441.4 359.1L1441.1 362.9L1444.4 359.9ZM1448.4 355.9L1445.6 355.4L1444.9 358.6L1445.9 358.6ZM1452.1 352.4L1450.4 351.9L1448.9 352.1L1448.6 355.4L1449.9 355.1ZM1226.6 293.6L1329.1 323.1L1331.9 320.4L1333.1 319.9L1334.1 312.9L1335.1 311.1L1336.1 303.1L1348.1 292.1L1272.9 270.4L1267.1 269.1L1258.9 266.4L1258.1 267.6L1247.6 275.6L1244.4 278.9L1243.6 278.9L1243.4 279.6L1238.6 283.6L1235.4 285.6L1231.9 289.1L1227.4 292.4Z"/>
<path fill="#36748d" stroke="#36748d" fill-rule="evenodd" d="M1412.9 412.4L1409.1 412.1L1408.1 417.4L1408.6 419.1L1410.6 417.1ZM1224.1 292.6L1223.1 292.9L1221.6 336.6L1224.9 334.1L1225.9 297.6L1226.4 293.4ZM1229.9 289.9L1227.4 289.4L1227.1 291.9L1228.1 291.9ZM1234.1 286.4L1231.6 285.9L1231.4 288.6L1231.9 288.9ZM1238.1 283.1L1235.6 282.6L1235.6 285.4L1237.9 283.9ZM1242.4 279.6L1239.9 279.1L1239.6 281.9L1240.1 282.1ZM1246.4 276.4L1243.9 275.9L1243.6 278.6L1244.4 278.6Z"/>
<path fill="#359d89" stroke="#359d89" fill-rule="evenodd" d="M1372.6 268.1L1468.9 295.4L1470.6 295.1L1472.6 295.6L1472.6 292.6L1473.4 291.6L1476.6 292.1L1476.4 290.6L1476.9 288.6L1478.1 288.1L1480.4 288.9L1480.1 287.4L1480.6 285.4L1481.1 284.9L1484.1 285.4L1483.9 283.9L1484.4 281.9L1484.9 281.4L1487.1 281.4L1488.4 272.9L1488.9 272.4L1491.6 272.9L1491.9 270.1L1492.6 269.1L1495.6 269.6L1495.4 268.1L1495.9 266.1L1496.4 265.6L1499.1 266.1L1499.6 262.6L1500.1 262.1L1502.9 262.6L1503.1 260.9L1410.6 235.6L1408.4 247.4L1403.6 246.1L1403.6 241.6L1402.6 241.9L1372.6 267.6Z"/>
<path fill="#3e4f88" stroke="#3e4f88" fill-rule="evenodd" d="M1210.1 346.1L1207.4 345.4L1207.1 348.1L1208.1 348.1ZM1214.1 342.4L1211.6 341.9L1211.6 344.9L1213.6 343.4ZM1215.6 340.9L1216.4 341.1L1218.4 339.6L1218.4 339.1L1215.9 338.6Z"/>
<path fill="#3a5d8b" stroke="#3a5d8b" fill-rule="evenodd" d="M1221.1 335.1L1219.6 335.4L1219.9 338.1L1221.4 336.9Z"/>
<path fill="#a4d949" stroke="#a4d949" fill-rule="evenodd" d="M1415.6 134.6L1414.9 135.1L1415.1 136.6L1413.9 140.1L1413.6 144.9L1412.4 151.6L1410.4 152.6L1408.6 154.4L1410.4 155.1L1412.4 154.9L1412.9 151.9L1415.6 152.1L1418.1 137.9L1418.9 135.9Z"/>
<path fill="#60c36f" stroke="#60c36f" fill-rule="evenodd" d="M1408.4 154.4L1406.4 156.1L1403.6 242.9L1403.6 245.9L1407.4 247.1L1408.4 247.1L1410.4 235.6L1410.1 231.4L1412.6 155.4L1410.4 155.4Z"/>
<path fill="#c0de3b" stroke="#c0de3b" fill-rule="evenodd" d="M1415.6 134.4L1419.1 135.9L1423.6 136.6L1503.6 157.9L1522.4 162.4L1527.6 164.1L1528.1 163.9L1530.6 145.9L1432.9 120.6Z"/>
<path fill="#38658c" stroke="#38658c" fill-rule="evenodd" d="M1266.9 426.4L1267.1 427.1L1270.4 428.4L1276.6 429.9L1367.6 457.9L1367.9 455.4L1368.6 454.6L1370.9 455.4L1371.9 455.1L1371.9 451.9L1372.6 450.9L1376.1 451.1L1376.1 447.6L1376.9 446.9L1379.1 447.6L1380.1 447.4L1380.1 444.1L1380.9 443.1L1384.4 443.4L1384.4 439.9L1385.1 439.1L1388.1 439.6L1387.9 437.9L1380.1 435.9L1375.6 434.1L1369.4 432.6L1364.9 430.9L1358.6 429.4L1354.1 427.6L1347.9 426.1L1287.9 407.6L1286.1 408.6L1271.4 421.6ZM1207.1 349.1L1208.6 350.1L1298.1 376.6L1308.9 380.4L1311.9 378.1L1312.4 377.1L1313.6 362.9L1230.1 338.4L1224.4 336.6L1223.4 335.9L1215.9 341.4Z"/>
<path fill="#76cc62" stroke="#76cc62" fill-rule="evenodd" d="M1418.9 136.1L1415.9 152.1L1412.9 152.1L1412.6 153.4L1412.9 162.6L1410.4 235.1L1501.1 260.1L1503.1 260.4L1503.9 258.9L1506.6 259.4L1506.9 256.4L1507.6 255.4L1510.4 255.9L1510.6 253.1L1511.4 252.1L1514.4 252.6L1514.4 249.6L1515.1 248.6L1518.1 249.6L1521.1 246.9L1522.4 246.4L1526.1 165.6L1527.4 164.1L1423.6 136.9ZM1414.6 135.4L1413.6 136.1L1414.1 138.6L1414.9 136.6Z"/>
<path fill="#433d82" stroke="#433d82" fill-rule="evenodd" d="M1185.1 383.9L1182.6 383.4L1182.6 386.4L1184.4 385.1ZM1189.4 380.4L1186.9 379.9L1186.9 382.9L1188.6 381.6ZM1193.6 376.9L1191.1 376.4L1191.1 379.4L1193.1 377.9ZM1197.9 373.4L1195.4 372.9L1195.1 375.4L1195.9 375.6Z"/>
<path fill="#36728d" stroke="#36728d" fill-rule="evenodd" d="M1358.9 467.4L1355.9 466.6L1355.4 467.4L1355.1 470.9L1351.9 470.6L1351.4 471.4L1348.1 491.4L1348.4 493.1L1366.9 475.6L1366.6 475.1L1356.4 472.1L1355.1 471.1L1356.9 469.9ZM1363.1 463.4L1360.1 462.6L1359.6 463.4L1359.4 466.6L1360.6 466.4ZM1367.4 459.4L1364.4 458.9L1363.6 462.6L1364.1 462.9ZM1371.4 455.6L1368.6 454.9L1368.1 455.4L1367.9 458.6L1368.4 458.9ZM1375.6 451.6L1372.6 451.1L1371.9 454.9L1373.1 454.6ZM1379.6 447.9L1376.9 447.1L1376.4 447.6L1376.1 450.9L1376.6 451.1ZM1383.9 443.9L1380.9 443.4L1380.1 447.1L1381.4 446.9ZM1388.1 439.9L1385.1 439.4L1384.6 439.9L1384.4 443.1L1384.9 443.4ZM1392.1 433.9L1388.9 433.6L1388.1 437.4L1388.4 439.1L1389.1 438.6L1390.1 436.4L1392.1 434.6ZM1226.4 294.1L1225.1 334.1L1223.6 335.9L1313.6 362.6L1313.9 364.4L1311.9 383.6L1407.6 412.4L1408.9 412.4L1409.4 411.6L1412.6 412.1L1412.4 410.4L1412.9 408.4L1413.4 407.9L1416.6 408.4L1416.4 406.6L1416.9 404.6L1417.4 404.1L1420.4 404.6L1420.9 400.9L1421.4 400.4L1424.4 400.9L1424.9 397.1L1425.4 396.6L1428.1 396.6L1428.9 394.6L1316.9 361.6L1316.4 361.1L1327.9 350.6L1327.6 346.4L1329.1 323.4L1227.6 293.9Z"/>
<path fill="#404887" stroke="#404887" fill-rule="evenodd" d="M1202.1 369.9L1199.4 369.4L1199.1 372.1L1200.1 372.1ZM1204.1 348.9L1203.1 349.1L1202.9 355.4L1203.4 356.1L1203.9 355.4L1204.1 351.4L1205.9 349.9L1205.9 349.4Z"/>
<path fill="#430b5a" stroke="#430b5a" fill-rule="evenodd" d="M1099.6 453.1L1097.9 463.9L1116.9 469.4L1117.1 456.1L1103.1 451.9L1102.1 451.1Z"/>
<path fill="#410452" stroke="#410452" fill-rule="evenodd" d="M1062.6 493.6L1116.6 511.1L1116.9 469.6L1115.6 469.6L1098.1 463.9Z"/>
<path fill="#3c558a" stroke="#3c558a" fill-rule="evenodd" d="M1182.1 387.6L1276.6 416.6L1289.1 405.9L1290.9 402.1L1294.9 398.6L1294.9 398.1L1290.9 396.6L1271.1 391.1L1265.9 389.1L1202.9 370.4L1195.4 375.9L1182.6 386.6Z"/>
<path fill="#395f8b" stroke="#395f8b" fill-rule="evenodd" d="M1204.4 351.4L1204.1 355.4L1203.4 356.4L1202.4 370.1L1290.9 396.4L1295.1 398.4L1306.6 387.9L1306.9 382.1L1308.6 380.6L1308.4 380.1L1230.6 357.1L1206.4 349.6Z"/>
<path fill="#34908c" stroke="#34908c" fill-rule="evenodd" d="M1437.6 366.6L1439.4 367.6L1451.1 370.6L1455.6 372.4L1465.6 374.9L1491.9 382.9L1506.9 368.6L1503.9 367.1L1493.1 364.6L1488.6 362.9L1456.9 354.1L1453.1 352.4L1449.9 355.4L1448.9 355.6L1445.9 358.9L1444.6 359.4Z"/>
<path fill="#348e8c" stroke="#348e8c" fill-rule="evenodd" d="M1333.1 320.4L1331.9 320.6L1329.4 323.4L1332.6 323.9ZM1335.1 312.4L1334.4 312.9L1333.4 319.9L1335.1 320.1Z"/>
<path fill="#433a81" stroke="#433a81" fill-rule="evenodd" d="M1179.1 386.9L1178.1 387.1L1178.1 396.1L1179.6 394.9L1181.4 388.1Z"/>
<path fill="#359c89" stroke="#359c89" fill-rule="evenodd" d="M1457.6 310.9L1457.1 312.4L1456.1 330.1L1455.6 330.6L1455.9 334.1L1454.6 350.6L1453.4 352.4L1456.9 353.9L1488.6 362.6L1493.1 364.4L1503.9 366.9L1505.4 365.4L1507.9 326.9L1508.4 325.1L1467.9 313.4ZM1368.1 275.4L1383.1 279.4L1460.4 301.4L1464.6 302.9L1464.9 299.6L1465.6 298.6L1468.6 299.1L1469.1 295.6L1414.9 280.1L1408.9 278.9L1372.4 268.1L1369.9 269.9Z"/>
<path fill="#433980" stroke="#433980" fill-rule="evenodd" d="M1165.1 459.1L1155.9 456.4L1155.6 467.6L1165.4 459.6ZM1164.1 407.6L1161.6 407.1L1161.6 409.9L1164.1 408.1ZM1165.9 403.4L1165.6 406.1L1166.4 406.4L1168.6 404.4ZM1172.6 400.4L1169.9 399.9L1170.1 402.9L1172.1 401.4ZM1176.9 396.9L1174.4 396.4L1174.1 398.9L1174.9 399.1Z"/>
<path fill="#349a8a" stroke="#349a8a" fill-rule="evenodd" d="M1336.6 302.9L1347.1 306.4L1449.6 335.4L1453.4 310.4L1454.1 309.4L1457.1 309.9L1457.1 306.9L1457.9 305.9L1461.1 306.4L1460.9 304.9L1461.6 302.1L1368.1 275.6Z"/>
<path fill="#46b37d" stroke="#46b37d" fill-rule="evenodd" d="M1492.9 273.1L1542.4 286.9L1546.4 288.6L1582.9 254.4L1529.1 239.9L1525.4 243.4L1523.9 253.1L1522.9 254.1L1521.9 253.6L1522.4 247.1L1521.1 247.1L1498.9 267.6L1495.6 269.9Z"/>
<path fill="#3e5089" stroke="#3e5089" fill-rule="evenodd" d="M1121.6 445.1L1142.1 451.9L1148.1 453.4L1152.1 455.1L1163.6 458.4L1165.4 459.4L1166.1 459.1L1218.9 476.1L1225.6 477.9L1228.6 474.9L1229.6 474.6L1231.6 458.6L1232.4 457.1L1266.4 427.1L1267.9 424.9L1177.4 397.1L1161.6 410.1L1153.4 417.9L1151.9 418.4L1150.6 420.1L1122.4 443.6Z"/>
<path fill="#376c8d" stroke="#376c8d" fill-rule="evenodd" d="M1312.1 378.4L1311.1 378.6L1309.6 380.1L1311.9 380.9Z"/>
<path fill="#443880" stroke="#443880" fill-rule="evenodd" d="M1152.4 455.1L1151.9 455.4L1151.6 473.4L1152.4 474.4L1153.1 470.1L1155.4 467.9L1155.6 456.4ZM1159.9 411.4L1157.1 410.6L1157.1 413.9L1159.9 411.9Z"/>
<path fill="#e9e535" stroke="#e9e535" fill-rule="evenodd" d="M1549.1 123.1L1550.9 123.9L1552.4 122.1L1549.4 121.4Z"/>
<path fill="#44347e" stroke="#44347e" fill-rule="evenodd" d="M1118.6 444.1L1117.6 444.4L1116.9 510.6L1151.1 480.9L1152.4 474.6L1151.4 473.4L1151.6 454.9L1122.4 445.9ZM1125.1 441.4L1122.4 440.4L1122.4 443.4ZM1129.4 437.4L1126.6 436.6L1126.6 439.9L1129.4 437.9ZM1133.6 433.6L1131.1 433.1L1131.1 436.1L1132.9 434.9ZM1137.9 429.9L1135.4 429.4L1135.4 432.4L1137.1 431.1ZM1142.4 426.1L1139.9 425.6L1139.6 428.4L1140.4 428.6L1142.6 426.6ZM1146.9 422.6L1144.1 421.9L1144.1 425.1L1146.9 423.1ZM1151.1 418.4L1148.4 418.6L1148.6 421.4L1151.1 419.4ZM1155.4 415.1L1152.9 414.6L1152.6 417.4L1153.4 417.6L1155.6 415.6Z"/>
<path fill="#e7e434" stroke="#e7e434" fill-rule="evenodd" d="M1550.4 123.6L1547.4 122.9L1546.9 126.4L1543.9 126.1L1543.1 129.9L1540.1 129.1L1539.4 133.1L1536.4 132.4L1535.6 136.4L1532.6 135.6L1528.4 163.4L1529.1 163.4L1533.1 160.1L1533.6 149.1L1535.9 136.6L1539.1 133.9L1539.6 132.9L1541.4 132.1L1543.4 129.6L1545.1 128.9L1547.1 126.6L1549.6 124.9Z"/>
<path fill="#98d64f" stroke="#98d64f" fill-rule="evenodd" d="M1533.1 160.6L1532.1 160.9L1529.1 163.6L1528.4 163.6L1526.4 165.6L1522.4 253.9L1523.6 253.1L1524.9 244.4L1525.6 242.6L1525.6 239.6L1526.6 238.9L1529.4 239.4Z"/>
<path fill="#fbe73d" stroke="#fbe73d" fill-rule="evenodd" d="M1536.6 136.4L1549.4 140.1L1582.9 148.4L1590.4 150.9L1606.9 136.1L1552.6 122.1L1545.1 129.1L1543.4 129.9L1541.4 132.4L1539.6 133.1Z"/>
<path fill="#34848d" stroke="#34848d" fill-rule="evenodd" d="M1336.1 303.6L1335.1 311.4L1335.6 312.6L1334.4 342.6L1334.1 345.4L1332.6 346.6L1332.9 347.4L1377.1 360.1L1381.6 361.9L1401.9 367.4L1406.4 369.1L1423.1 373.6L1431.6 376.4L1433.1 366.4L1434.4 365.9L1436.9 366.6L1437.1 362.9L1437.6 362.4L1440.9 362.9L1440.9 359.6L1441.6 358.6L1444.4 359.4L1444.9 359.1L1444.9 356.1L1445.6 355.1L1448.6 355.6L1448.4 349.4L1449.4 335.6L1347.1 306.6L1336.6 303.1Z"/>
<path fill="#38668c" stroke="#38668c" fill-rule="evenodd" d="M1287.9 407.4L1387.4 437.6L1388.1 437.1L1388.4 434.1L1389.1 433.1L1392.1 433.6L1392.1 432.1L1291.9 401.9L1291.1 402.1L1289.4 405.9ZM1311.9 381.1L1309.1 380.4L1307.1 382.1L1306.9 387.9L1311.6 383.9Z"/>
<path fill="#addb44" stroke="#addb44" fill-rule="evenodd" d="M1536.1 136.6L1533.6 151.6L1529.9 236.9L1529.4 239.6L1579.4 252.9L1584.9 151.1L1586.4 149.6Z"/>
<path fill="#38678c" stroke="#38678c" fill-rule="evenodd" d="M1291.9 401.6L1391.4 431.9L1392.4 431.6L1392.4 430.4L1393.1 429.4L1396.4 430.1L1396.6 426.4L1397.4 425.6L1400.4 426.1L1400.6 422.6L1401.4 421.9L1404.4 422.4L1404.6 418.9L1405.4 418.1L1407.9 418.4L1408.6 412.6L1312.1 383.9L1306.6 388.1Z"/>
<path fill="#3ca984" stroke="#3ca984" fill-rule="evenodd" d="M1491.6 273.1L1488.9 272.6L1488.4 273.4L1487.1 281.6L1487.9 282.1L1488.4 281.9L1489.9 275.6Z"/>
<path fill="#3aa885" stroke="#3aa885" fill-rule="evenodd" d="M1460.9 306.6L1457.9 306.1L1457.1 308.4L1457.4 309.9L1454.1 309.6L1453.6 310.4L1449.9 334.9L1450.6 334.9L1455.9 330.1L1457.4 310.1L1460.4 307.6ZM1472.4 295.9L1469.4 295.4L1468.6 299.4L1465.6 298.9L1464.6 303.1L1461.9 302.4L1461.1 304.9L1461.4 306.4L1462.4 305.9L1464.9 302.9L1468.1 300.6ZM1476.4 292.4L1473.4 291.9L1472.6 294.1L1472.9 295.6L1475.9 293.4ZM1480.1 289.1L1477.4 288.4L1476.6 290.6L1476.9 292.1L1480.1 289.6ZM1483.9 285.6L1481.1 285.1L1480.4 287.4L1480.6 288.9L1481.6 288.4ZM1487.9 282.4L1484.9 281.6L1484.1 283.9L1484.4 285.4Z"/>
<path fill="#b7dc3f" stroke="#b7dc3f" fill-rule="evenodd" d="M1586.6 149.9L1585.1 151.1L1579.6 250.9L1579.6 253.1L1583.1 254.1L1588.6 154.4L1588.9 152.1L1590.1 151.1L1589.9 150.6Z"/>
<path fill="#45b27e" stroke="#45b27e" fill-rule="evenodd" d="M1488.4 282.1L1542.6 297.4L1544.4 290.6L1546.1 288.9L1542.4 287.1L1492.9 273.4L1491.9 273.4L1490.4 275.1Z"/>
<path fill="#42b080" stroke="#42b080" fill-rule="evenodd" d="M1457.6 310.6L1467.9 313.1L1476.1 315.9L1512.1 325.9L1542.4 297.4L1488.1 282.4L1485.4 285.1L1484.1 285.6L1481.6 288.6L1480.4 289.1L1480.1 289.9L1476.6 292.4L1473.9 295.4L1472.6 295.9L1468.1 300.9L1464.9 303.1Z"/>
<path fill="#34938b" stroke="#34938b" fill-rule="evenodd" d="M1455.6 331.1L1454.4 331.4L1449.6 335.6L1448.6 349.4L1448.9 351.9L1450.4 351.6L1452.6 352.4L1454.4 350.6Z"/>
<path fill="#3c578a" stroke="#3c578a" fill-rule="evenodd" d="M1246.4 462.4L1235.4 458.6L1232.4 458.1L1231.9 458.6L1229.9 474.6L1228.6 475.1L1225.9 477.9L1229.1 479.1L1230.1 474.1L1233.4 475.1L1234.4 470.4L1237.6 471.4L1238.4 466.6L1241.9 467.6L1242.6 462.9L1246.1 463.9Z"/>
<path fill="#38648c" stroke="#38648c" fill-rule="evenodd" d="M1232.4 457.6L1347.6 493.6L1348.1 493.4L1347.9 491.4L1351.4 470.9L1351.9 470.4L1354.9 470.9L1355.1 467.4L1355.9 466.4L1359.1 467.1L1359.4 463.4L1360.1 462.4L1363.4 463.1L1363.6 459.6L1364.4 458.6L1367.9 458.9L1367.4 458.1L1315.6 442.1L1309.4 440.6L1276.6 430.1L1270.4 428.6L1266.9 427.1L1254.1 437.9Z"/>
<path fill="#34808d" stroke="#34808d" fill-rule="evenodd" d="M1433.6 366.1L1433.1 366.9L1429.6 393.6L1432.6 393.9L1434.6 370.4L1434.9 368.9L1436.9 366.9Z"/>
<path fill="#357d8d" stroke="#357d8d" fill-rule="evenodd" d="M1413.4 412.4L1416.9 413.9L1423.4 415.4L1427.9 417.1L1467.9 428.9L1487.1 410.4L1432.6 394.4L1429.9 396.9L1428.9 397.1L1425.9 400.6L1424.6 401.1L1421.9 404.4L1420.6 404.9L1417.9 408.1L1416.6 408.6Z"/>
<path fill="#359b8a" stroke="#359b8a" fill-rule="evenodd" d="M1508.6 325.4L1508.1 326.9L1505.6 365.4L1504.1 366.6L1504.4 367.4L1507.1 368.4L1509.1 366.4L1512.1 327.4L1512.1 326.1Z"/>
<path fill="#36738d" stroke="#36738d" fill-rule="evenodd" d="M1396.1 430.4L1393.1 429.6L1392.6 430.4L1392.4 433.9L1395.6 431.4ZM1400.1 426.4L1397.4 425.9L1396.9 426.4L1396.6 429.6L1397.1 429.9ZM1404.1 422.6L1401.4 422.1L1400.9 422.6L1400.6 425.9L1401.6 425.6ZM1408.4 419.1L1407.9 418.6L1405.4 418.4L1404.9 418.9L1404.6 422.1L1406.4 421.4Z"/>
<path fill="#357b8d" stroke="#357b8d" fill-rule="evenodd" d="M1409.4 418.9L1453.1 432.4L1459.6 433.9L1463.6 435.6L1465.6 433.6L1467.6 429.4L1463.6 427.6L1457.1 426.1L1423.4 415.6L1416.9 414.1L1412.9 412.6L1410.9 417.1Z"/>
<path fill="#357a8d" stroke="#357a8d" fill-rule="evenodd" d="M1388.4 439.9L1439.4 455.4L1443.6 457.1L1445.6 452.9L1454.9 444.4L1463.4 435.6L1408.9 419.1L1406.4 421.6L1404.6 422.4L1401.6 425.9L1400.6 426.1L1395.6 431.6L1392.4 434.1L1390.4 436.4Z"/>
</g>
<linearGradient id="cbb" x1="0" y1="0" x2="0" y2="1"><stop offset="0%" stop-color="#fbe73d"/><stop offset="3.1%" stop-color="#ece535"/><stop offset="6.2%" stop-color="#d9e234"/><stop offset="9.4%" stop-color="#c5df39"/><stop offset="12.5%" stop-color="#b2dc42"/><stop offset="15.6%" stop-color="#9fd84b"/><stop offset="18.8%" stop-color="#8dd355"/><stop offset="21.9%" stop-color="#7cce5f"/><stop offset="25%" stop-color="#6cc868"/><stop offset="28.1%" stop-color="#5ec270"/><stop offset="31.2%" stop-color="#52bb77"/><stop offset="34.4%" stop-color="#47b47d"/><stop offset="37.5%" stop-color="#3fad82"/><stop offset="40.6%" stop-color="#39a685"/><stop offset="43.8%" stop-color="#369e88"/><stop offset="46.9%" stop-color="#34978b"/><stop offset="50%" stop-color="#34908c"/><stop offset="53.1%" stop-color="#34888d"/><stop offset="56.2%" stop-color="#34818d"/><stop offset="59.4%" stop-color="#35798d"/><stop offset="62.5%" stop-color="#36728d"/><stop offset="65.6%" stop-color="#376a8c"/><stop offset="68.8%" stop-color="#39628c"/><stop offset="71.9%" stop-color="#3b5a8b"/><stop offset="75%" stop-color="#3d5289"/><stop offset="78.1%" stop-color="#404987"/><stop offset="81.2%" stop-color="#424084"/><stop offset="84.4%" stop-color="#44377f"/><stop offset="87.5%" stop-color="#452d79"/><stop offset="90.6%" stop-color="#462472"/><stop offset="93.8%" stop-color="#451a68"/><stop offset="96.9%" stop-color="#440f5e"/><stop offset="100%" stop-color="#410452"/></linearGradient>
<rect x="1754.8" y="149.5" width="59.1" height="353.2" fill="url(#cbb)" stroke="#1c1c1c" stroke-width="1.6"/>
<g font-family='"DejaVu Sans","Liberation Sans",sans-serif' font-size="17.9" fill="#1c1c1c">
<text x="1826.9" y="481.9" dy="0.365em">0.4</text>
<text x="1826.9" y="415.8" dy="0.365em">0.6</text>
<text x="1826.9" y="349.7" dy="0.365em">0.8</text>
<text x="1826.9" y="283.6" dy="0.365em">1.0</text>
<text x="1826.9" y="217.6" dy="0.365em">1.2</text>
<text x="1826.9" y="151.5" dy="0.365em">1.4</text>
</g>
<line x1="1813.9" y1="481.9" x2="1820.4" y2="481.9" stroke="#1c1c1c" stroke-width="1.6"/>
<line x1="1813.9" y1="415.8" x2="1820.4" y2="415.8" stroke="#1c1c1c" stroke-width="1.6"/>
<line x1="1813.9" y1="349.7" x2="1820.4" y2="349.7" stroke="#1c1c1c" stroke-width="1.6"/>
<line x1="1813.9" y1="283.6" x2="1820.4" y2="283.6" stroke="#1c1c1c" stroke-width="1.6"/>
<line x1="1813.9" y1="217.6" x2="1820.4" y2="217.6" stroke="#1c1c1c" stroke-width="1.6"/>
<line x1="1813.9" y1="151.5" x2="1820.4" y2="151.5" stroke="#1c1c1c" stroke-width="1.6"/>
<rect x="983" y="651.5" width="377" height="60" fill="#fff"/>
<g id="panel-c">
<polygon stroke="#fbfbfb" stroke-width="2" stroke-linejoin="round" fill="#f8f8f8" points="480.8,1154.8 719.9,954.7 716.4,666.5 465.4,848.3"/>
<polygon stroke="#fbfbfb" stroke-width="2" stroke-linejoin="round" fill="#f1f1f1" points="719.9,954.7 1102.4,1065.9 1116.6,767.3 716.4,666.5"/>
<polygon stroke="#fbfbfb" stroke-width="2" stroke-linejoin="round" fill="#f4f4f4" points="480.8,1154.8 887.2,1288.2 1102.4,1065.9 719.9,954.7"/>
<g fill="none" stroke="#b4b4b4" stroke-width="1.45" stroke-linejoin="round"><polyline points="505.4,1162.9 743.1,961.4 740.7,672.6"/><polyline points="562.2,1181.5 796.7,977 796.7,686.7"/><polyline points="619.8,1200.4 851.1,992.8 853.5,701"/><polyline points="678.4,1219.7 906.3,1008.9 911.3,715.6"/><polyline points="738,1239.2 962.3,1025.1 969.9,730.3"/><polyline points="798.5,1259.1 1019.2,1041.7 1029.4,745.3"/><polyline points="860,1279.3 1076.9,1058.4 1089.9,760.6"/><polyline points="924.6,1249.6 522.1,1120.2 509,816.8"/><polyline points="968.2,1204.6 570.5,1079.7 559.8,779.9"/><polyline points="1010.2,1161.1 617.2,1040.7 608.8,744.4"/><polyline points="1050.7,1119.2 662.3,1002.9 656.1,710.2"/><polyline points="1089.8,1078.8 705.9,966.4 701.8,677.1"/><polyline points="480.5,1148.8 719.8,949 1102.7,1060"/><polyline points="478,1098.1 719.2,901.2 1105,1010.6"/><polyline points="475.4,1046.7 718.7,852.7 1107.4,960.4"/><polyline points="472.8,994.4 718.1,803.5 1109.8,909.5"/><polyline points="470.1,941.2 717.5,753.6 1112.3,857.7"/><polyline points="467.4,887.2 716.9,702.9 1114.8,805.1"/></g>
<g fill="none" stroke="#1c1c1c" stroke-width="1.6"><polyline points="480.8,1154.8 887.2,1288.2"/><polyline points="887.2,1288.2 1102.4,1065.9"/><polyline points="1102.4,1065.9 1116.6,767.3"/><polyline points="507.3,1161.2 500.7,1166.8"/><polyline points="564.1,1179.8 557.6,1185.5"/><polyline points="621.7,1198.7 615.3,1204.5"/><polyline points="680.3,1218 674,1223.8"/><polyline points="739.8,1237.5 733.6,1243.4"/><polyline points="800.3,1257.3 794.2,1263.4"/><polyline points="861.8,1277.5 855.7,1283.6"/><polyline points="921.7,1248.7 930.9,1251.6"/><polyline points="965.3,1203.6 974.5,1206.5"/><polyline points="1007.3,1160.2 1016.5,1163.1"/><polyline points="1047.8,1118.4 1057,1121.1"/><polyline points="1086.9,1078 1096.2,1080.7"/><polyline points="1098.8,1058.8 1109.5,1061.9"/><polyline points="1101.1,1009.5 1111.8,1012.5"/><polyline points="1103.5,959.3 1114.2,962.3"/><polyline points="1105.9,908.4 1116.7,911.3"/><polyline points="1108.4,856.7 1119.2,859.5"/><polyline points="1110.9,804.1 1121.7,806.9"/></g>
<g font-family='"DejaVu Sans","Liberation Sans",sans-serif' font-size="18.3" fill="#1c1c1c" text-anchor="middle">
<text x="491.7" y="1202.2" dy="0.365em">1.0</text>
<text x="548.4" y="1220.8" dy="0.365em">1.5</text>
<text x="606.1" y="1239.7" dy="0.365em">2.0</text>
<text x="664.7" y="1259" dy="0.365em">2.5</text>
<text x="724.3" y="1278.5" dy="0.365em">3.0</text>
<text x="784.8" y="1298.4" dy="0.365em">3.5</text>
<text x="846.3" y="1318.6" dy="0.365em">4.0</text>
<text x="947.4" y="1282.7" dy="0.365em">500</text>
<text x="991" y="1237.7" dy="0.365em">600</text>
<text x="1033" y="1194.2" dy="0.365em">700</text>
<text x="1073.6" y="1152.4" dy="0.365em">800</text>
<text x="1112.7" y="1111.9" dy="0.365em">900</text>
<text x="1138" y="1063.5" dy="0.365em">0.55</text>
<text x="1140.3" y="1014.1" dy="0.365em">0.60</text>
<text x="1142.7" y="964" dy="0.365em">0.65</text>
<text x="1145.2" y="913" dy="0.365em">0.70</text>
<text x="1147.6" y="861.2" dy="0.365em">0.75</text>
<text x="1150.1" y="808.7" dy="0.365em">0.80</text>
</g>
</g>
<text transform="translate(648.9 1285.2) rotate(18.18)" text-anchor="middle" dy="0.365em" letter-spacing="0.21" font-family='"DejaVu Sans","Liberation Sans",sans-serif' font-size="18.3" fill="#1c1c1c">Ratio of Activating Agent to Carbon</text>
<text transform="translate(1049 1225.3) rotate(-45.96)" text-anchor="middle" dy="0.365em" letter-spacing="0.21" font-family='"DejaVu Sans","Liberation Sans",sans-serif' font-size="18.3" fill="#1c1c1c">Activation Temperature</text>
<text transform="translate(1182.6 912.5) rotate(-90.00)" text-anchor="middle" dy="0.365em" letter-spacing="0.21" font-family='"DejaVu Sans","Liberation Sans",sans-serif' font-size="18.3" fill="#1c1c1c">Micro Pore Volume</text>
<g stroke-width="0.7" stroke-linejoin="round">
<path fill="#3f8f8c" stroke="none" fill-rule="evenodd" d="M1075.6 778.9L1018.1 764.4L1017.6 765.9L1016.4 765.9L1016.1 768.9L1015.6 769.4L1014.1 769.6L1012.6 769.1L1012.4 772.1L1011.9 772.6L1010.4 772.9L1008.9 772.4L1008.6 775.4L1007.6 776.1L1005.1 775.6L1004.4 779.4L1001.4 778.9L1000.6 782.6L999.4 782.9L997.6 782.4L996.9 785.9L993.6 785.6L993.4 788.6L992.9 789.1L989.9 788.9L989.6 791.9L988.6 792.6L986.1 792.1L985.4 795.9L982.1 795.4L981.9 798.6L980.9 799.4L978.4 798.9L978.1 801.9L977.1 802.6L898.6 782.1L836.1 833.6L835.1 841.9L834.4 842.4L784.9 828.9L784.4 830.4L783.1 830.4L782.4 834.1L781.6 834.4L779.1 833.6L778.4 837.4L775.1 836.9L774.4 840.6L771.1 840.1L770.6 843.4L769.6 843.9L767.1 843.1L766.9 845.1L765.9 845.9L731.4 836.1L727.6 835.6L663.4 886.6L662.6 957.6L629.4 985.1L628.1 1018.6L620.6 1024.6L612.6 1022.4L612.6 1025.9L611.1 1026.9L608.4 1026.1L608.1 1029.9L606.9 1030.6L603.9 1029.9L603.9 1033.4L602.4 1034.4L599.4 1033.6L599.4 1036.9L597.9 1038.1L594.9 1037.4L594.9 1040.6L593.1 1041.9L590.4 1040.9L590.4 1044.4L588.9 1045.6L585.9 1044.6L585.9 1048.1L584.1 1049.4L581.4 1048.4L581.4 1051.9L579.6 1053.1L576.6 1052.4L576.9 1082.9L572.9 1086.4L571.1 1101.9L522.6 1142.9L576.4 1160.4L624.4 1118.6L626.1 1102.9L657.6 1076.1L690.1 1086.1L690.1 1082.4L691.6 1081.4L694.6 1082.4L694.6 1078.6L696.1 1077.6L698.9 1078.4L698.9 1075.1L699.6 1073.9L700.4 1073.6L703.4 1074.6L703.4 1071.4L704.6 1069.9L706.9 1070.6L708.4 1069.9L710.4 1070.6L710.6 1072.4L712.4 1071.1L717.6 1072.9L717.9 1074.6L719.4 1073.4L722.6 1074.1L724.6 1075.1L724.9 1076.6L726.6 1075.4L729.6 1076.4L729.9 1072.4L731.1 1071.6L733.9 1072.6L734.1 1068.6L735.1 1067.9L738.1 1068.6L738.4 1064.9L739.4 1064.1L742.4 1064.9L742.4 1062.1L743.1 1060.6L743.9 1060.4L746.6 1061.1L746.6 1058.4L747.4 1056.9L748.1 1056.6L750.9 1057.4L750.9 1054.6L751.6 1053.1L752.4 1052.9L755.1 1053.6L755.1 1050.9L755.9 1049.4L756.6 1049.1L759.4 1049.9L759.9 1045.6L760.6 1045.4L763.4 1046.4L763.4 1043.9L764.1 1041.9L764.9 1041.6L767.6 1042.6L767.6 1040.1L768.4 1038.4L769.1 1038.1L771.9 1038.9L772.1 1031.4L772.9 1030.9L812.4 1042.9L831.6 1025.6L833.6 1026.1L834.4 1028.1L835.9 1026.9L840.6 1028.1L841.6 1028.9L841.9 1030.4L843.4 1029.1L848.4 1030.4L849.1 1030.9L849.4 1032.4L891.9 993.6L892.1 989.9L897.1 985.1L898.4 984.9L901.9 985.9L902.9 986.6L903.1 988.1L904.6 986.9L909.6 988.1L910.6 988.9L910.9 990.4L912.4 989.1L914.4 989.9L914.9 991.4L956.6 952.6L959.4 927.6L979.1 909.4L981.9 882.4L1013.1 854.1L1015.9 832.1Z"/>
<path fill="#348c8c" stroke="#348c8c" fill-rule="evenodd" d="M690.6 1083.1L689.6 1083.4L687.1 1085.9L690.6 1086.9ZM693.1 1008.1L692.6 1012.1L690.9 1081.6L691.1 1082.1L691.6 1081.9L695.1 1083.1L695.1 1078.9L696.1 1078.1L699.4 1079.1L699.4 1075.4L700.1 1074.1L703.9 1075.4L703.9 1071.6L704.6 1070.4L708.1 1071.4L708.4 1067.1L709.1 1066.6L712.6 1067.4L712.6 1063.9L713.1 1062.9L716.9 1063.6L716.9 1060.4L717.4 1059.1L721.4 1059.6L721.9 1059.4L721.6 1056.1L722.1 1055.4L725.6 1055.9L727.1 1018.1L696.1 1008.6ZM766.1 845.9L765.6 845.1L727.9 834.9L665.4 884.6L718.4 899.9L718.6 900.4L717.1 901.6L717.1 907.4L717.6 907.9L718.6 907.1L718.4 904.6L718.9 904.1L721.4 904.6L721.9 902.9L722.1 898.4L720.1 899.6L719.1 899.4L721.9 878.9L722.6 878.4L725.1 879.1L726.1 878.9L725.6 877.6L726.6 875.1L729.9 875.6L729.9 872.9L730.6 871.9L733.6 872.6L734.1 872.1L734.1 869.6L734.9 868.6L737.6 869.4L738.1 868.9L737.9 867.9L738.6 865.4L742.1 865.6L742.4 862.4L743.1 861.9L745.4 862.6L746.1 862.4L746.1 859.6L746.9 858.6L750.1 859.1L750.1 856.4L750.9 855.4L754.1 855.9L754.1 853.1L754.9 852.1L758.1 852.6L757.9 851.6L758.6 849.1L761.6 849.6L762.1 849.4L761.9 848.4L762.6 845.9L765.4 846.4Z"/>
<path fill="#34998a" stroke="#34998a" fill-rule="evenodd" d="M784.1 829.9L785.6 830.6L787.4 828.9L784.4 828.1Z"/>
<path fill="#34988a" stroke="#34988a" fill-rule="evenodd" d="M722.1 878.9L719.4 899.4L720.1 899.4L721.6 898.1L722.4 898.4L721.6 904.6L785.1 922.6L787.1 923.6L798.1 914.4L799.1 899.9L772.6 892.9L746.6 885.1L741.6 884.1L727.9 880.1L726.1 879.1ZM729.1 875.9L726.6 875.4L725.9 877.6L726.1 878.6L728.4 877.1ZM733.1 872.6L730.6 872.1L729.9 875.1L730.9 875.1ZM737.4 869.4L734.9 868.9L734.1 871.6L734.9 871.9L737.4 869.9ZM741.4 866.1L738.6 865.6L738.1 868.4L738.9 868.6ZM745.6 862.9L742.6 862.4L742.1 865.1L742.6 865.6ZM749.6 859.6L746.9 858.9L746.1 861.9L746.6 862.4ZM753.6 856.4L750.9 855.6L750.1 858.6L750.6 859.1ZM757.6 853.1L754.9 852.4L754.1 855.4L754.6 855.9ZM761.6 849.9L758.6 849.4L758.1 852.1L758.6 852.6ZM765.6 846.6L762.6 846.1L762.1 848.9L762.6 849.4ZM769.6 843.4L766.6 842.6L766.1 845.6L766.6 846.1ZM773.6 840.1L770.6 839.4L770.1 842.6L770.6 842.9ZM777.6 836.9L774.6 836.1L774.1 839.6L775.1 839.4ZM781.4 833.6L778.6 832.9L778.1 836.4L781.4 834.1ZM785.4 830.6L782.6 829.9L782.1 832.9L783.4 832.6Z"/>
<path fill="#369f88" stroke="#369f88" fill-rule="evenodd" d="M834.4 841.9L787.4 829.1L783.4 832.9L782.1 833.1L781.4 834.4L778.1 836.6L775.1 839.6L774.1 839.9L770.6 843.1L770.1 842.9L767.6 845.6L765.9 846.4L763.6 848.9L761.9 849.6L759.6 852.1L757.9 852.9L755.6 855.4L753.9 856.1L751.6 858.6L749.9 859.4L747.6 861.9L745.9 862.6L743.6 865.1L741.9 865.9L737.4 870.1L729.6 875.9L726.4 879.1L772.6 892.6L799.1 899.6L800.1 882.4L800.9 879.9L833.1 853.1Z"/>
<path fill="#3e4f88" stroke="#3e4f88" fill-rule="evenodd" d="M576.1 1051.6L576.4 1082.6L575.6 1083.6L576.4 1084.6L576.6 1159.9L577.1 1160.4L612.1 1129.9L611.9 1075.9L612.4 1062.9ZM580.9 1050.9L581.6 1050.9L583.9 1049.1L583.9 1048.6L580.9 1047.6ZM588.4 1044.9L585.4 1043.9L585.4 1047.4L588.4 1045.4ZM592.9 1041.1L589.9 1040.1L589.9 1043.6L592.9 1041.6ZM597.4 1037.4L594.4 1036.6L594.4 1039.9ZM601.9 1033.6L598.9 1032.9L598.9 1036.1ZM606.4 1029.9L603.4 1029.1L603.4 1032.4L604.1 1032.4ZM607.9 1025.4L607.9 1028.6L608.6 1028.6L610.6 1026.1ZM612.1 1024.9L612.9 1024.9L615.1 1023.1L615.1 1022.6L612.1 1021.6ZM681.9 963.9L680.1 962.9L661.9 957.6L628.9 984.9L664.1 995.1L664.1 978.6L665.6 978.1L667.4 979.1L668.1 978.9L668.6 978.1L668.4 975.1L669.9 974.6L671.9 975.6L672.9 974.6L672.6 971.6L673.1 971.1L676.1 972.1L677.1 971.1L676.9 968.1L677.4 967.6L680.4 968.6L681.4 967.6L681.1 964.6Z"/>
<path fill="#35768d" stroke="#35768d" fill-rule="evenodd" d="M718.6 906.4L719.4 906.6L721.1 904.9L718.9 904.4ZM665.1 884.4L662.9 886.4L662.1 957.4L681.6 963.1L684.6 965.1L686.6 963.4L688.1 934.1L688.6 932.1L693.1 927.9L717.1 908.4L716.9 901.6L718.4 900.1L665.6 885.1Z"/>
<path fill="#452d79" stroke="#452d79" fill-rule="evenodd" d="M620.9 1023.9L633.6 1028.1L638.1 1028.9L639.1 1027.9L639.1 1024.4L627.6 1021.1L625.6 1020.1Z"/>
<path fill="#433a81" stroke="#433a81" fill-rule="evenodd" d="M628.9 985.1L627.6 1018.4L625.6 1019.9L627.6 1020.9L637.6 1023.9L640.4 1024.1L642.4 1025.1L643.4 1024.4L643.1 1021.1L643.6 1020.6L646.6 1021.6L647.9 1020.4L647.6 1017.4L648.1 1016.9L651.1 1017.9L652.1 1016.9L651.9 1013.9L652.4 1013.4L655.4 1014.4L656.4 1013.4L656.1 1010.1L656.6 1009.6L659.6 1010.6L660.6 1009.6L660.4 1006.6L660.9 1006.1L663.6 1006.6L664.1 995.4Z"/>
<path fill="#4ab67b" stroke="#4ab67b" fill-rule="evenodd" d="M780.1 930.1L848.1 949.4L852.9 951.1L866.6 954.6L875.6 957.4L875.9 954.9L876.4 954.4L879.4 955.1L880.1 954.6L879.9 952.4L880.6 950.6L883.6 951.4L884.4 950.9L884.1 948.6L884.9 946.9L888.4 947.6L888.4 943.9L889.4 943.1L889.1 942.6L825.6 924.9L817.4 922.1L798.6 917.1L796.6 916.1Z"/>
<path fill="#348d8c" stroke="#348d8c" fill-rule="evenodd" d="M689.1 931.9L726.1 942.6L730.6 944.4L775.6 956.9L777.4 932.1L786.9 923.6L721.4 904.9Z"/>
<path fill="#98d64f" stroke="#98d64f" fill-rule="evenodd" d="M837.9 831.6L839.6 832.6L845.9 833.9L868.4 840.4L874.6 841.6L911.9 852.1L933.6 857.6L934.4 855.6L937.9 856.1L937.6 853.6L938.4 852.4L941.6 852.9L941.6 850.1L942.4 848.9L945.6 849.4L945.6 846.6L946.4 845.4L949.6 845.9L949.6 843.1L950.4 841.9L953.4 842.4L953.6 838.9L954.1 838.4L955.6 838.4L958.1 815.4L959.6 814.9L961.9 815.6L961.9 812.9L962.6 811.6L965.9 812.1L965.6 809.6L966.4 808.1L969.4 808.9L969.9 808.6L969.6 806.1L970.4 804.9L973.6 805.4L973.4 802.9L973.9 801.4L898.4 781.6Z"/>
<path fill="#3a5b8b" stroke="#3a5b8b" fill-rule="evenodd" d="M671.4 975.4L668.9 974.9L668.9 977.9L670.6 976.6ZM675.6 971.9L673.1 971.4L673.1 974.4L674.9 973.1ZM679.9 968.4L677.4 967.9L677.4 970.9L679.1 969.6Z"/>
<path fill="#38668c" stroke="#38668c" fill-rule="evenodd" d="M683.6 964.4L681.9 964.1L681.4 964.6L681.6 967.4L684.1 965.4Z"/>
<path fill="#430e5d" stroke="#430e5d" fill-rule="evenodd" d="M575.4 1083.6L572.4 1086.1L570.6 1101.6L576.1 1102.9L576.1 1084.6Z"/>
<path fill="#410452" stroke="#410452" fill-rule="evenodd" d="M576.1 1103.1L570.9 1101.6L521.6 1143.1L576.6 1160.9Z"/>
<path fill="#414585" stroke="#414585" fill-rule="evenodd" d="M656.9 1076.6L630.4 1068.4L629.9 1068.6L629.4 1100.9L655.6 1078.4ZM641.9 1024.9L640.4 1024.4L639.1 1024.6L639.4 1027.6L642.1 1025.4ZM646.4 1021.6L643.6 1020.9L643.4 1023.6L644.4 1023.6ZM650.6 1017.6L648.1 1017.1L648.1 1020.1L649.9 1018.9ZM654.9 1014.1L652.4 1013.6L652.4 1016.6L654.1 1015.4ZM659.1 1010.4L657.6 1009.9L656.4 1010.1L656.6 1013.1L659.4 1010.9Z"/>
<path fill="#3d5389" stroke="#3d5389" fill-rule="evenodd" d="M663.6 1006.9L660.9 1006.4L660.9 1009.4ZM665.6 978.4L664.4 978.6L664.6 983.1L664.1 983.4L664.1 987.4L664.6 988.1L665.1 987.4L665.4 980.9L667.1 979.4L667.1 978.9Z"/>
<path fill="#36748d" stroke="#36748d" fill-rule="evenodd" d="M579.9 1052.4L604.9 1060.6L611.1 1062.1L617.6 1064.6L618.1 1064.4L686.6 1085.9L690.9 1082.4L690.6 1073.9L691.6 1045.6L690.4 1045.6L650.4 1033.1L644.1 1031.6L636.4 1028.6L630.1 1027.4L620.9 1024.1L615.4 1022.9ZM668.4 978.9L711.4 991.9L727.4 977.9L688.6 966.6L684.9 965.1Z"/>
<path fill="#357d8d" stroke="#357d8d" fill-rule="evenodd" d="M688.6 932.6L686.9 963.4L685.4 964.6L686.1 965.6L722.4 975.9L727.6 977.9L728.6 977.4L749.1 983.1L759.1 973.9L775.4 960.4L775.6 957.1L730.6 944.6L726.1 942.9L689.1 932.1Z"/>
<path fill="#3a5e8b" stroke="#3a5e8b" fill-rule="evenodd" d="M638.1 1029.1L644.1 1031.4L650.4 1032.9L690.4 1045.4L691.6 1045.4L692.4 1015.6L674.9 1010.9L663.6 1007.1Z"/>
<path fill="#376c8d" stroke="#376c8d" fill-rule="evenodd" d="M663.9 1006.9L674.9 1010.6L692.4 1015.4L692.6 1008.4L693.1 1007.1L711.1 991.9L667.9 979.1L665.6 980.9L665.4 987.4L664.6 988.4Z"/>
<path fill="#414485" stroke="#414485" fill-rule="evenodd" d="M627.1 1067.4L625.9 1067.6L625.4 1106.4L626.1 1107.4L626.6 1103.1L629.1 1101.1L629.4 1072.4L629.9 1068.4Z"/>
<path fill="#424084" stroke="#424084" fill-rule="evenodd" d="M618.1 1064.6L617.4 1064.9L616.9 1125.6L624.9 1118.9L626.1 1107.6L625.1 1106.4L625.9 1067.1Z"/>
<path fill="#dbe233" stroke="#dbe233" fill-rule="evenodd" d="M1017.4 765.4L1019.4 766.1L1020.9 764.4L1017.6 763.6Z"/>
<path fill="#d9e234" stroke="#d9e234" fill-rule="evenodd" d="M965.6 812.4L962.6 811.9L962.1 812.9L962.4 815.4ZM969.4 809.1L966.4 808.4L965.9 809.6L966.1 812.1ZM973.4 805.6L970.4 805.1L969.9 808.1L970.9 808.1ZM984.9 795.6L981.6 794.9L981.4 798.4L980.9 798.9L977.9 798.1L977.6 801.6L977.1 802.1L974.1 801.4L973.6 802.9L973.9 805.4ZM1003.9 779.1L1000.9 778.4L1000.4 782.1L999.4 782.4L997.1 781.6L996.9 784.9L996.4 785.6L993.1 784.9L992.9 788.4L991.9 788.9L989.4 788.1L989.1 791.6L988.6 792.1L985.6 791.4L985.1 795.1L985.9 795.1L988.4 793.1L989.1 791.9L992.1 789.9L992.9 788.6L996.9 785.1L997.9 784.9ZM1019.1 766.1L1015.9 765.4L1015.6 768.6L1015.1 769.1L1012.1 768.6L1011.9 771.9L1011.4 772.4L1008.4 771.9L1008.1 775.1L1007.6 775.6L1004.6 775.1L1004.1 778.6L1005.9 777.9L1008.1 775.4L1009.4 774.9L1011.9 772.1L1013.1 771.6Z"/>
<path fill="#404686" stroke="#404686" fill-rule="evenodd" d="M613.4 1063.1L612.4 1063.4L612.1 1075.9L612.4 1129.6L616.9 1125.9L616.4 1125.1L617.4 1064.6Z"/>
<path fill="#fbe73d" stroke="#fbe73d" fill-rule="evenodd" d="M1076.6 778.6L1021.1 764.6L1016.9 768.6L1015.6 769.1L1013.1 771.9L1011.9 772.4L1009.4 775.1L1008.1 775.6L1007.4 776.9L1004.9 778.9L1004.4 778.6L1001.6 781.9L1000.6 782.1L997.9 785.1L996.9 785.4L992.9 788.9L992.1 790.1L989.1 792.1L988.4 793.4L985.9 795.4L985.4 795.1L981.9 798.9L978.6 801.6L977.6 801.9L976.6 803.4L970.9 808.4L969.6 808.9L968.9 810.1L962.6 815.6L1018.4 830.6Z"/>
<path fill="#78cc61" stroke="#78cc61" fill-rule="evenodd" d="M848.4 994.4L821.9 986.9L820.4 985.9L817.6 985.1L816.6 985.4L812.9 1042.9L846.6 1012.9ZM824.4 982.1L820.9 981.4L820.6 984.9L821.6 984.9ZM828.6 978.1L825.6 977.4L825.1 980.9L825.9 981.1ZM832.9 974.4L829.9 973.6L829.4 977.1L830.4 977.1ZM837.4 970.6L833.9 969.9L833.6 973.4L834.6 973.4ZM841.6 966.9L838.6 966.1L838.1 969.4L838.9 969.6ZM845.9 962.9L842.9 962.1L842.4 965.6L843.4 965.6ZM850.1 959.1L847.1 958.4L846.6 961.9L847.6 961.9ZM854.4 955.4L851.4 954.6L850.9 958.1L851.9 958.1ZM874.6 960.6L878.4 962.1L912.1 971.6L912.9 973.4L914.1 989.9L916.4 990.6L956.9 953.1L945.4 949.6L934.9 947.1L930.1 945.4L916.1 941.9L911.4 940.1L899.9 937.4L893.4 943.6L892.1 943.9L892.1 944.6L888.1 947.9L887.9 948.6L884.6 950.9L881.6 954.1L880.4 954.6L876.9 958.4L875.6 958.9ZM800.9 880.4L904.6 909.4L905.1 906.1L905.6 905.6L909.1 906.1L908.9 903.6L909.6 901.9L912.9 902.6L913.4 902.1L913.1 899.9L913.9 898.4L917.4 898.9L917.4 895.4L919.1 894.4L920.9 877.1L833.1 853.4L807.1 874.6Z"/>
<path fill="#8dd355" stroke="#8dd355" fill-rule="evenodd" d="M835.4 833.6L833.4 853.1L920.9 876.9L921.9 866.6L923.1 866.1L925.6 866.9L925.6 863.9L926.4 862.6L929.6 863.1L929.6 860.4L930.4 859.1L933.6 859.6L933.6 857.9L911.9 852.4L874.6 841.9L868.4 840.6L845.9 834.1L839.6 832.9L837.6 831.9Z"/>
<path fill="#38678c" stroke="#38678c" fill-rule="evenodd" d="M717.9 1059.1L717.1 1060.4L717.1 1063.6L715.9 1063.9L713.6 1062.9L713.1 1063.1L712.9 1067.4L708.6 1067.1L708.4 1070.1L709.9 1070.9L710.1 1073.4L712.6 1071.6L716.9 1072.9L717.4 1075.6L719.4 1073.9L723.6 1075.1L722.4 1059.9L720.1 1059.9Z"/>
<path fill="#35788d" stroke="#35788d" fill-rule="evenodd" d="M769.4 1030.6L733.1 1019.9L732.4 1020.1L730.6 1066.4L730.9 1072.1L734.4 1073.4L734.6 1068.9L735.4 1068.4L738.6 1069.4L738.6 1066.1L739.4 1064.6L742.9 1065.6L742.9 1062.4L743.6 1060.9L747.1 1061.9L747.1 1058.6L747.9 1057.1L751.4 1058.1L751.4 1054.9L752.1 1053.4L755.6 1054.4L755.6 1051.1L756.4 1049.6L759.9 1050.6L760.4 1045.9L763.9 1047.1L763.9 1044.1L764.6 1042.1L768.1 1043.4Z"/>
<path fill="#34858d" stroke="#34858d" fill-rule="evenodd" d="M769.6 1030.9L768.9 1038.6L772.4 1039.6L772.6 1031.6Z"/>
<path fill="#59bf72" stroke="#59bf72" fill-rule="evenodd" d="M800.6 881.1L798.4 914.4L796.9 915.6L797.1 916.4L850.1 931.1L861.9 934.9L882.9 940.4L889.1 942.4L889.6 943.1L891.4 943.6L892.4 943.1L892.6 940.1L893.1 939.6L896.6 940.1L896.6 936.4L897.1 935.9L898.9 936.1L901.4 908.6L801.9 880.9Z"/>
<path fill="#37a187" stroke="#37a187" fill-rule="evenodd" d="M749.4 982.9L749.6 983.6L760.9 986.6L765.4 988.4L815.1 1002.6L816.4 985.4L817.6 984.9L820.4 985.6L820.9 981.1L824.6 981.9L825.1 981.4L824.9 978.9L825.6 977.1L828.9 978.1L829.4 977.4L829.1 975.9L775.6 960.4Z"/>
<path fill="#41af80" stroke="#41af80" fill-rule="evenodd" d="M777.6 932.1L775.6 960.1L829.1 975.6L829.9 973.4L833.1 974.4L833.6 973.9L833.6 969.9L834.4 969.4L837.6 970.4L838.1 969.9L837.9 967.6L838.6 965.9L841.6 966.6L842.4 966.1L842.1 963.6L842.9 961.9L846.1 962.9L846.6 962.4L846.4 959.9L847.1 958.1L850.4 959.1L850.9 958.6L850.6 956.1L851.4 954.4L870.9 959.9L871.9 959.9L872.4 958.1L875.9 958.6L875.6 957.6L866.6 954.9L852.9 951.4L848.1 949.6L780.1 930.4Z"/>
<path fill="#afdb43" stroke="#afdb43" fill-rule="evenodd" d="M929.4 863.4L926.4 862.9L925.9 863.9L925.9 866.9L924.9 867.1L922.4 866.4L921.9 867.4L919.1 894.6L919.4 897.1L923.1 894.1L925.4 868.9L925.9 866.9L926.9 866.4ZM933.4 859.9L930.4 859.4L929.9 860.4L929.9 862.9L930.9 862.6ZM937.4 856.6L934.4 855.9L933.9 856.9L933.9 859.4L934.9 859.1ZM941.4 853.1L938.4 852.6L937.9 855.6L938.4 856.1L940.9 854.1ZM945.4 849.6L942.4 849.1L941.9 850.1L941.9 852.6L942.9 852.4ZM949.4 846.1L946.4 845.6L945.9 846.6L945.9 849.1L946.9 848.9ZM953.1 842.6L950.4 842.1L949.9 843.1L949.9 845.6L950.9 845.4Z"/>
<path fill="#cae037" stroke="#cae037" fill-rule="evenodd" d="M959.6 815.1L958.6 815.1L958.1 816.1L956.1 837.9L955.6 838.6L953.9 838.9L953.6 842.1L954.6 841.9L957.4 839.1L959.6 818.9L959.9 817.6L961.6 816.1Z"/>
<path fill="#d4e134" stroke="#d4e134" fill-rule="evenodd" d="M926.1 867.6L982.4 882.6L1013.4 854.6L956.9 839.6L954.6 842.1L953.6 842.4L950.9 845.6L949.9 845.9L948.9 847.4L945.9 849.4L942.9 852.6L941.9 852.9L940.9 854.4L938.4 856.4L937.6 856.4L936.9 857.6L933.9 859.6L930.9 862.9L929.9 863.1L929.6 863.9L926.1 866.9Z"/>
<path fill="#34808d" stroke="#34808d" fill-rule="evenodd" d="M728.4 1018.4L727.1 1018.6L725.9 1055.9L722.1 1055.6L721.9 1056.1L722.9 1061.6L724.4 1077.9L726.6 1075.9L730.1 1077.1L730.1 1073.6L730.6 1072.4L730.4 1066.4L731.9 1022.6L732.4 1019.6Z"/>
<path fill="#eee536" stroke="#eee536" fill-rule="evenodd" d="M960.1 817.6L957.4 839.4L1009.6 853.1L1012.4 831.4L1014.1 829.9L1013.9 829.4L963.6 816.4L962.4 815.6Z"/>
<path fill="#f0e637" stroke="#f0e637" fill-rule="evenodd" d="M1014.9 829.6L1012.6 831.4L1009.9 852.4L1009.9 853.4L1013.6 854.4L1016.1 833.4L1016.4 832.4L1018.1 830.9Z"/>
<path fill="#7cce5f" stroke="#7cce5f" fill-rule="evenodd" d="M908.6 906.6L905.6 905.9L904.9 909.6L905.6 909.6ZM912.6 902.9L909.6 902.1L909.1 905.6L910.1 905.6ZM916.6 899.1L913.9 898.6L913.4 901.6L914.1 901.9ZM918.9 895.1L917.6 895.4L917.6 898.6L918.9 897.9Z"/>
<path fill="#3ba984" stroke="#3ba984" fill-rule="evenodd" d="M846.4 1013.4L832.1 1026.1L833.6 1026.9L833.9 1029.1L836.1 1027.4L840.6 1028.6L841.1 1029.1L841.4 1031.4L843.4 1029.6L848.4 1030.9L846.9 1013.9Z"/>
<path fill="#b4dc40" stroke="#b4dc40" fill-rule="evenodd" d="M925.9 868.1L923.4 894.1L922.1 895.1L922.1 895.9L973.6 910.1L975.6 908.6L978.1 882.9L978.6 881.9L929.1 868.4Z"/>
<path fill="#a1d84a" stroke="#a1d84a" fill-rule="evenodd" d="M905.6 909.9L913.1 912.4L930.9 916.9L935.6 918.6L946.1 921.1L961.9 925.9L977.6 911.6L974.4 910.1L970.6 909.6L965.9 907.9L944.4 902.4L939.6 900.6L921.9 895.9L919.1 897.4L918.4 898.6L913.6 902.1Z"/>
<path fill="#56be74" stroke="#56be74" fill-rule="evenodd" d="M892.6 991.1L890.1 992.4L878.4 1003.1L854.6 996.1L853.6 996.4L851.4 1031.1L892.4 993.9ZM872.1 958.6L872.1 960.1L874.4 960.4L875.4 959.4L873.4 958.4ZM879.4 955.4L876.4 954.6L875.9 958.1L876.9 958.1ZM883.4 951.4L880.6 950.9L880.1 954.1L880.6 954.6L883.6 951.9ZM887.9 947.9L884.9 947.1L884.4 950.4L885.1 950.6L887.9 948.4ZM891.9 943.9L890.4 943.4L888.6 943.9L888.6 947.4L891.9 944.6ZM896.1 940.6L893.1 939.9L892.4 943.6L893.4 943.4Z"/>
<path fill="#6cc868" stroke="#6cc868" fill-rule="evenodd" d="M901.6 909.1L901.1 910.6L899.1 936.1L896.9 936.4L896.9 939.9L900.4 936.9L902.6 913.4L902.9 911.9L904.6 910.4L904.6 909.6Z"/>
<path fill="#46b37d" stroke="#46b37d" fill-rule="evenodd" d="M693.1 1007.6L729.4 1018.4L732.6 1019.9L736.9 1020.6L793.1 1037.4L801.6 1040.4L812.4 1043.4L812.9 1043.1L812.4 1041.6L815.1 1002.9L806.1 1000.6L801.6 998.9L795.1 997.4L728.6 977.6Z"/>
<path fill="#91d453" stroke="#91d453" fill-rule="evenodd" d="M903.1 911.9L900.4 937.1L953.1 951.6L955.6 926.6L957.4 925.1L957.1 924.6L913.1 912.6L905.4 909.9Z"/>
<path fill="#b2dc42" stroke="#b2dc42" fill-rule="evenodd" d="M978.9 882.1L978.4 882.9L975.9 908.6L974.6 909.6L974.9 910.4L977.9 911.4L979.6 909.6L982.4 883.6L982.4 882.9Z"/>
<path fill="#93d552" stroke="#93d552" fill-rule="evenodd" d="M958.4 924.9L955.9 926.6L953.4 951.9L957.1 952.9L959.6 929.1L959.9 927.9L961.6 926.1Z"/>
<path fill="#62c36e" stroke="#62c36e" fill-rule="evenodd" d="M849.1 994.6L848.4 994.9L847.4 1010.6L846.6 1013.1L847.1 1013.9L848.9 1033.6L851.1 1031.4L853.6 996.1Z"/>
<path fill="#86d159" stroke="#86d159" fill-rule="evenodd" d="M908.9 976.4L906.6 977.4L898.1 985.4L901.9 986.4L902.4 986.9L902.6 989.4L904.6 987.4L909.9 988.6Z"/>
<path fill="#9fd84b" stroke="#9fd84b" fill-rule="evenodd" d="M820.6 985.9L828.6 988.6L846.9 993.6L848.6 994.6L849.1 994.4L853.9 996.1L854.6 995.9L878.4 1002.9L890.1 992.1L892.6 990.9L892.6 990.1L906.6 977.1L908.6 976.1L908.9 975.4L912.1 972.6L912.1 971.9L878.4 962.4L874.4 960.6L866.9 959.1L855.1 955.6L851.1 958.6Z"/>
<path fill="#84d05a" stroke="#84d05a" fill-rule="evenodd" d="M911.9 972.9L908.9 975.9L910.1 987.1L909.9 988.9L910.4 991.4L912.4 989.6L913.6 989.9L914.1 992.6L916.1 990.6L913.9 989.9L912.6 973.4Z"/>
</g>
<linearGradient id="cbc" x1="0" y1="0" x2="0" y2="1"><stop offset="0%" stop-color="#fbe73d"/><stop offset="3.1%" stop-color="#ece535"/><stop offset="6.2%" stop-color="#d9e234"/><stop offset="9.4%" stop-color="#c5df39"/><stop offset="12.5%" stop-color="#b2dc42"/><stop offset="15.6%" stop-color="#9fd84b"/><stop offset="18.8%" stop-color="#8dd355"/><stop offset="21.9%" stop-color="#7cce5f"/><stop offset="25%" stop-color="#6cc868"/><stop offset="28.1%" stop-color="#5ec270"/><stop offset="31.2%" stop-color="#52bb77"/><stop offset="34.4%" stop-color="#47b47d"/><stop offset="37.5%" stop-color="#3fad82"/><stop offset="40.6%" stop-color="#39a685"/><stop offset="43.8%" stop-color="#369e88"/><stop offset="46.9%" stop-color="#34978b"/><stop offset="50%" stop-color="#34908c"/><stop offset="53.1%" stop-color="#34888d"/><stop offset="56.2%" stop-color="#34818d"/><stop offset="59.4%" stop-color="#35798d"/><stop offset="62.5%" stop-color="#36728d"/><stop offset="65.6%" stop-color="#376a8c"/><stop offset="68.8%" stop-color="#39628c"/><stop offset="71.9%" stop-color="#3b5a8b"/><stop offset="75%" stop-color="#3d5289"/><stop offset="78.1%" stop-color="#404987"/><stop offset="81.2%" stop-color="#424084"/><stop offset="84.4%" stop-color="#44377f"/><stop offset="87.5%" stop-color="#452d79"/><stop offset="90.6%" stop-color="#462472"/><stop offset="93.8%" stop-color="#451a68"/><stop offset="96.9%" stop-color="#440f5e"/><stop offset="100%" stop-color="#410452"/></linearGradient>
<rect x="1227.5" y="791.4" width="60.1" height="361.8" fill="url(#cbc)" stroke="#1c1c1c" stroke-width="1.6"/>
<g font-family='"DejaVu Sans","Liberation Sans",sans-serif' font-size="18.3" fill="#1c1c1c">
<text x="1300.6" y="1153.2" dy="0.365em">0.55</text>
<text x="1300.6" y="1088.3" dy="0.365em">0.60</text>
<text x="1300.6" y="1023.4" dy="0.365em">0.65</text>
<text x="1300.6" y="958.5" dy="0.365em">0.70</text>
<text x="1300.6" y="893.6" dy="0.365em">0.75</text>
<text x="1300.6" y="828.7" dy="0.365em">0.80</text>
</g>
<line x1="1287.6" y1="1153.2" x2="1294.1" y2="1153.2" stroke="#1c1c1c" stroke-width="1.6"/>
<line x1="1287.6" y1="1088.3" x2="1294.1" y2="1088.3" stroke="#1c1c1c" stroke-width="1.6"/>
<line x1="1287.6" y1="1023.4" x2="1294.1" y2="1023.4" stroke="#1c1c1c" stroke-width="1.6"/>
<line x1="1287.6" y1="958.5" x2="1294.1" y2="958.5" stroke="#1c1c1c" stroke-width="1.6"/>
<line x1="1287.6" y1="893.6" x2="1294.1" y2="893.6" stroke="#1c1c1c" stroke-width="1.6"/>
<line x1="1287.6" y1="828.7" x2="1294.1" y2="828.7" stroke="#1c1c1c" stroke-width="1.6"/>
</g>
<text x="71.5" y="84" text-anchor="middle" dy="0.3em" font-family='"Liberation Serif","DejaVu Serif",serif' font-weight="bold" font-size="48" fill="#000">(a)</text>
<text x="1030" y="84" text-anchor="middle" dy="0.3em" font-family='"Liberation Serif","DejaVu Serif",serif' font-weight="bold" font-size="48" fill="#000">(b)</text>
<text x="811" y="637.5" text-anchor="middle" dy="0.3em" font-family='"Liberation Serif","DejaVu Serif",serif' font-weight="bold" font-size="48" fill="#000">(c)</text>
<path fill="#c00000" fill-rule="evenodd" d="M0 14H1887V1350H0ZM5.5 19.2V1344.2H1880V19.2Z"/>
</svg>
</body></html>
